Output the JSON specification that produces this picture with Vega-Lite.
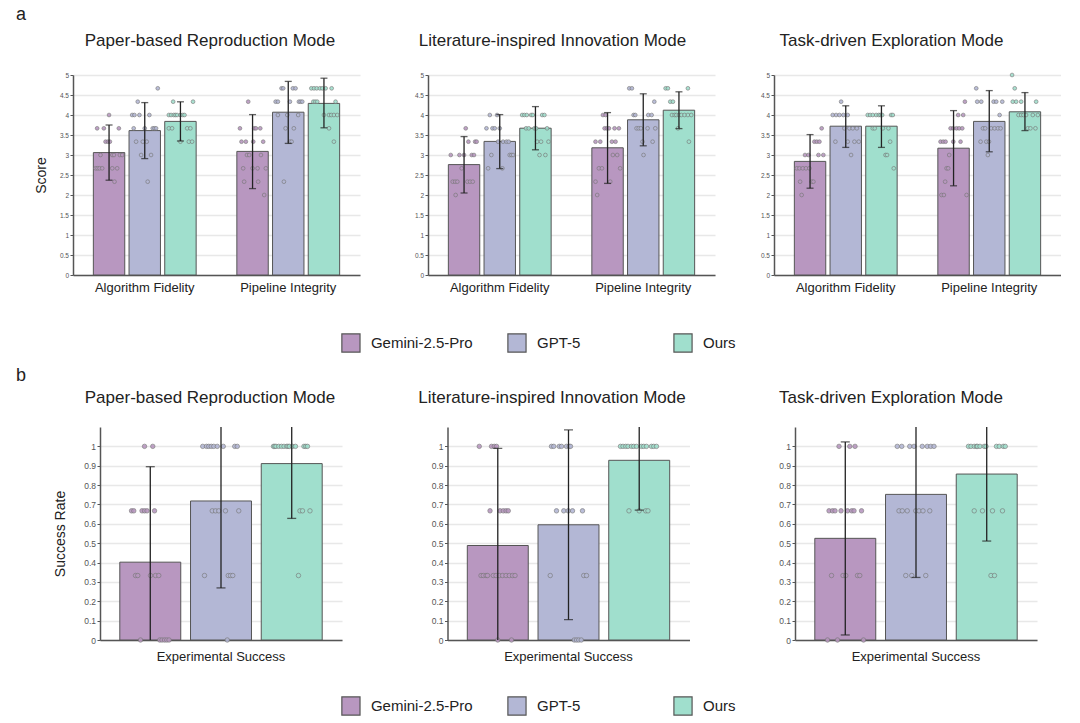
{
"$schema": "https://vega.github.io/schema/vega-lite/v6.json",
"padding": {"left": 16, "top": 5, "right": 0, "bottom": 0},
"background": "white",
"config": {
 "font": "Liberation Sans",
 "view": {"stroke": null},
 "axis": {"domainColor": "#555", "domainWidth": 1.5, "tickColor": "#555", "labelColor": "#555", "titleColor": "#222", "titleFontWeight": "normal", "titleFont": "Liberation Sans", "labelFont": "Liberation Sans"},
 "axisX": {"ticks": false, "grid": false, "labelAngle": 0, "labelFontSize": 13, "labelColor": "#222", "labelPadding": 6},
 "axisY": {"grid": true, "gridColor": "#e8e8e8", "gridWidth": 1.3, "tickSize": 3, "labelPadding": 1.5, "titleFontSize": 14, "format": "~g", "tickCount": 20, "labelOverlap": false},
 "title": {"fontWeight": "normal", "color": "#222", "fontSize": 17, "font": "Liberation Sans"}
},
"datasets": {
 "barsA": [
  {"mode":"Paper","metric":"Algorithm Fidelity","model":"Gemini-2.5-Pro","mean":3.06,"lo":2.37,"hi":3.75},
  {"mode":"Paper","metric":"Algorithm Fidelity","model":"GPT-5","mean":3.61,"lo":2.91,"hi":4.31},
  {"mode":"Paper","metric":"Algorithm Fidelity","model":"Ours","mean":3.84,"lo":3.35,"hi":4.33},
  {"mode":"Paper","metric":"Pipeline Integrity","model":"Gemini-2.5-Pro","mean":3.09,"lo":2.16,"hi":4.01},
  {"mode":"Paper","metric":"Pipeline Integrity","model":"GPT-5","mean":4.07,"lo":3.29,"hi":4.84},
  {"mode":"Paper","metric":"Pipeline Integrity","model":"Ours","mean":4.29,"lo":3.68,"hi":4.92},
  {"mode":"Literature","metric":"Algorithm Fidelity","model":"Gemini-2.5-Pro","mean":2.76,"lo":2.05,"hi":3.46},
  {"mode":"Literature","metric":"Algorithm Fidelity","model":"GPT-5","mean":3.34,"lo":2.66,"hi":4.01},
  {"mode":"Literature","metric":"Algorithm Fidelity","model":"Ours","mean":3.67,"lo":3.13,"hi":4.21},
  {"mode":"Literature","metric":"Pipeline Integrity","model":"Gemini-2.5-Pro","mean":3.18,"lo":2.29,"hi":4.06},
  {"mode":"Literature","metric":"Pipeline Integrity","model":"GPT-5","mean":3.88,"lo":3.23,"hi":4.53},
  {"mode":"Literature","metric":"Pipeline Integrity","model":"Ours","mean":4.12,"lo":3.66,"hi":4.58},
  {"mode":"Task","metric":"Algorithm Fidelity","model":"Gemini-2.5-Pro","mean":2.84,"lo":2.17,"hi":3.51},
  {"mode":"Task","metric":"Algorithm Fidelity","model":"GPT-5","mean":3.72,"lo":3.19,"hi":4.23},
  {"mode":"Task","metric":"Algorithm Fidelity","model":"Ours","mean":3.72,"lo":3.19,"hi":4.23},
  {"mode":"Task","metric":"Pipeline Integrity","model":"Gemini-2.5-Pro","mean":3.17,"lo":2.23,"hi":4.11},
  {"mode":"Task","metric":"Pipeline Integrity","model":"GPT-5","mean":3.84,"lo":3.08,"hi":4.61},
  {"mode":"Task","metric":"Pipeline Integrity","model":"Ours","mean":4.08,"lo":3.61,"hi":4.56}
 ],
 "barsB": [
  {"mode":"Paper","metric":"Experimental Success","model":"Gemini-2.5-Pro","mean":0.402,"lo":-0.09,"hi":0.895},
  {"mode":"Paper","metric":"Experimental Success","model":"GPT-5","mean":0.718,"lo":0.269,"hi":1.167},
  {"mode":"Paper","metric":"Experimental Success","model":"Ours","mean":0.911,"lo":0.628,"hi":1.194},
  {"mode":"Literature","metric":"Experimental Success","model":"Gemini-2.5-Pro","mean":0.488,"lo":-0.01,"hi":0.99},
  {"mode":"Literature","metric":"Experimental Success","model":"GPT-5","mean":0.595,"lo":0.105,"hi":1.085},
  {"mode":"Literature","metric":"Experimental Success","model":"Ours","mean":0.928,"lo":0.671,"hi":1.185},
  {"mode":"Task","metric":"Experimental Success","model":"Gemini-2.5-Pro","mean":0.525,"lo":0.026,"hi":1.023},
  {"mode":"Task","metric":"Experimental Success","model":"GPT-5","mean":0.752,"lo":0.323,"hi":1.181},
  {"mode":"Task","metric":"Experimental Success","model":"Ours","mean":0.857,"lo":0.511,"hi":1.203}
 ],
 "ptsA": [
  {"mode":"Paper","metric":"Algorithm Fidelity","model":"Gemini-2.5-Pro","score":4,"j":0},
  {"mode":"Paper","metric":"Algorithm Fidelity","model":"Gemini-2.5-Pro","score":3.667,"j":-0.85},
  {"mode":"Paper","metric":"Algorithm Fidelity","model":"Gemini-2.5-Pro","score":3.667,"j":-0.37},
  {"mode":"Paper","metric":"Algorithm Fidelity","model":"Gemini-2.5-Pro","score":3.667,"j":0.7},
  {"mode":"Paper","metric":"Algorithm Fidelity","model":"Gemini-2.5-Pro","score":3.333,"j":-0.25},
  {"mode":"Paper","metric":"Algorithm Fidelity","model":"Gemini-2.5-Pro","score":3.333,"j":-0.08},
  {"mode":"Paper","metric":"Algorithm Fidelity","model":"Gemini-2.5-Pro","score":3.333,"j":0.06},
  {"mode":"Paper","metric":"Algorithm Fidelity","model":"Gemini-2.5-Pro","score":3,"j":-0.61},
  {"mode":"Paper","metric":"Algorithm Fidelity","model":"Gemini-2.5-Pro","score":3,"j":0.23},
  {"mode":"Paper","metric":"Algorithm Fidelity","model":"Gemini-2.5-Pro","score":3,"j":0.35},
  {"mode":"Paper","metric":"Algorithm Fidelity","model":"Gemini-2.5-Pro","score":3,"j":0.77},
  {"mode":"Paper","metric":"Algorithm Fidelity","model":"Gemini-2.5-Pro","score":3,"j":0.94},
  {"mode":"Paper","metric":"Algorithm Fidelity","model":"Gemini-2.5-Pro","score":2.667,"j":-0.96},
  {"mode":"Paper","metric":"Algorithm Fidelity","model":"Gemini-2.5-Pro","score":2.667,"j":-0.82},
  {"mode":"Paper","metric":"Algorithm Fidelity","model":"Gemini-2.5-Pro","score":2.667,"j":-0.68},
  {"mode":"Paper","metric":"Algorithm Fidelity","model":"Gemini-2.5-Pro","score":2.667,"j":-0.49},
  {"mode":"Paper","metric":"Algorithm Fidelity","model":"Gemini-2.5-Pro","score":2.667,"j":0.23},
  {"mode":"Paper","metric":"Algorithm Fidelity","model":"Gemini-2.5-Pro","score":2.667,"j":0.58},
  {"mode":"Paper","metric":"Algorithm Fidelity","model":"Gemini-2.5-Pro","score":2.333,"j":0.39},
  {"mode":"Paper","metric":"Algorithm Fidelity","model":"GPT-5","score":4.667,"j":0.93},
  {"mode":"Paper","metric":"Algorithm Fidelity","model":"GPT-5","score":4.333,"j":-0.5},
  {"mode":"Paper","metric":"Algorithm Fidelity","model":"GPT-5","score":4,"j":-0.9},
  {"mode":"Paper","metric":"Algorithm Fidelity","model":"GPT-5","score":4,"j":-0.74},
  {"mode":"Paper","metric":"Algorithm Fidelity","model":"GPT-5","score":4,"j":-0.38},
  {"mode":"Paper","metric":"Algorithm Fidelity","model":"GPT-5","score":4,"j":0.33},
  {"mode":"Paper","metric":"Algorithm Fidelity","model":"GPT-5","score":3.667,"j":-0.79},
  {"mode":"Paper","metric":"Algorithm Fidelity","model":"GPT-5","score":3.667,"j":0},
  {"mode":"Paper","metric":"Algorithm Fidelity","model":"GPT-5","score":3.667,"j":0.57},
  {"mode":"Paper","metric":"Algorithm Fidelity","model":"GPT-5","score":3.667,"j":0.69},
  {"mode":"Paper","metric":"Algorithm Fidelity","model":"GPT-5","score":3.667,"j":0.81},
  {"mode":"Paper","metric":"Algorithm Fidelity","model":"GPT-5","score":3.333,"j":-0.62},
  {"mode":"Paper","metric":"Algorithm Fidelity","model":"GPT-5","score":3.333,"j":-0.14},
  {"mode":"Paper","metric":"Algorithm Fidelity","model":"GPT-5","score":3.333,"j":0.14},
  {"mode":"Paper","metric":"Algorithm Fidelity","model":"GPT-5","score":3,"j":-0.26},
  {"mode":"Paper","metric":"Algorithm Fidelity","model":"GPT-5","score":3,"j":0.45},
  {"mode":"Paper","metric":"Algorithm Fidelity","model":"GPT-5","score":2.333,"j":0.21},
  {"mode":"Paper","metric":"Algorithm Fidelity","model":"Ours","score":4.333,"j":-0.52},
  {"mode":"Paper","metric":"Algorithm Fidelity","model":"Ours","score":4.333,"j":0.9},
  {"mode":"Paper","metric":"Algorithm Fidelity","model":"Ours","score":4,"j":-0.83},
  {"mode":"Paper","metric":"Algorithm Fidelity","model":"Ours","score":4,"j":-0.67},
  {"mode":"Paper","metric":"Algorithm Fidelity","model":"Ours","score":4,"j":-0.48},
  {"mode":"Paper","metric":"Algorithm Fidelity","model":"Ours","score":4,"j":-0.36},
  {"mode":"Paper","metric":"Algorithm Fidelity","model":"Ours","score":4,"j":-0.24},
  {"mode":"Paper","metric":"Algorithm Fidelity","model":"Ours","score":4,"j":0},
  {"mode":"Paper","metric":"Algorithm Fidelity","model":"Ours","score":4,"j":0.17},
  {"mode":"Paper","metric":"Algorithm Fidelity","model":"Ours","score":4,"j":0.29},
  {"mode":"Paper","metric":"Algorithm Fidelity","model":"Ours","score":3.667,"j":-0.83},
  {"mode":"Paper","metric":"Algorithm Fidelity","model":"Ours","score":3.667,"j":-0.6},
  {"mode":"Paper","metric":"Algorithm Fidelity","model":"Ours","score":3.667,"j":0.48},
  {"mode":"Paper","metric":"Algorithm Fidelity","model":"Ours","score":3.667,"j":0.71},
  {"mode":"Paper","metric":"Algorithm Fidelity","model":"Ours","score":3.333,"j":0},
  {"mode":"Paper","metric":"Algorithm Fidelity","model":"Ours","score":3.333,"j":0.6},
  {"mode":"Paper","metric":"Algorithm Fidelity","model":"Ours","score":3.333,"j":0.83},
  {"mode":"Paper","metric":"Pipeline Integrity","model":"Gemini-2.5-Pro","score":4.333,"j":-0.31},
  {"mode":"Paper","metric":"Pipeline Integrity","model":"Gemini-2.5-Pro","score":3.667,"j":-0.9},
  {"mode":"Paper","metric":"Pipeline Integrity","model":"Gemini-2.5-Pro","score":3.667,"j":0.12},
  {"mode":"Paper","metric":"Pipeline Integrity","model":"Gemini-2.5-Pro","score":3.667,"j":0.24},
  {"mode":"Paper","metric":"Pipeline Integrity","model":"Gemini-2.5-Pro","score":3.667,"j":0.55},
  {"mode":"Paper","metric":"Pipeline Integrity","model":"Gemini-2.5-Pro","score":3.333,"j":-0.79},
  {"mode":"Paper","metric":"Pipeline Integrity","model":"Gemini-2.5-Pro","score":3.333,"j":-0.48},
  {"mode":"Paper","metric":"Pipeline Integrity","model":"Gemini-2.5-Pro","score":3.333,"j":0.05},
  {"mode":"Paper","metric":"Pipeline Integrity","model":"Gemini-2.5-Pro","score":3.333,"j":0.76},
  {"mode":"Paper","metric":"Pipeline Integrity","model":"Gemini-2.5-Pro","score":3,"j":-0.4},
  {"mode":"Paper","metric":"Pipeline Integrity","model":"Gemini-2.5-Pro","score":3,"j":-0.24},
  {"mode":"Paper","metric":"Pipeline Integrity","model":"Gemini-2.5-Pro","score":3,"j":0.6},
  {"mode":"Paper","metric":"Pipeline Integrity","model":"Gemini-2.5-Pro","score":2.667,"j":-0.67},
  {"mode":"Paper","metric":"Pipeline Integrity","model":"Gemini-2.5-Pro","score":2.667,"j":0},
  {"mode":"Paper","metric":"Pipeline Integrity","model":"Gemini-2.5-Pro","score":2.667,"j":0.36},
  {"mode":"Paper","metric":"Pipeline Integrity","model":"Gemini-2.5-Pro","score":2.667,"j":0.95},
  {"mode":"Paper","metric":"Pipeline Integrity","model":"Gemini-2.5-Pro","score":2.333,"j":-0.6},
  {"mode":"Paper","metric":"Pipeline Integrity","model":"Gemini-2.5-Pro","score":2.333,"j":0.4},
  {"mode":"Paper","metric":"Pipeline Integrity","model":"Gemini-2.5-Pro","score":2,"j":0.83},
  {"mode":"Paper","metric":"Pipeline Integrity","model":"GPT-5","score":4.667,"j":-0.48},
  {"mode":"Paper","metric":"Pipeline Integrity","model":"GPT-5","score":4.667,"j":-0.36},
  {"mode":"Paper","metric":"Pipeline Integrity","model":"GPT-5","score":4.667,"j":0.33},
  {"mode":"Paper","metric":"Pipeline Integrity","model":"GPT-5","score":4.667,"j":0.52},
  {"mode":"Paper","metric":"Pipeline Integrity","model":"GPT-5","score":4.333,"j":-0.9},
  {"mode":"Paper","metric":"Pipeline Integrity","model":"GPT-5","score":4.333,"j":-0.74},
  {"mode":"Paper","metric":"Pipeline Integrity","model":"GPT-5","score":4.333,"j":0.12},
  {"mode":"Paper","metric":"Pipeline Integrity","model":"GPT-5","score":4.333,"j":0.76},
  {"mode":"Paper","metric":"Pipeline Integrity","model":"GPT-5","score":4.333,"j":0.88},
  {"mode":"Paper","metric":"Pipeline Integrity","model":"GPT-5","score":4.333,"j":1.0},
  {"mode":"Paper","metric":"Pipeline Integrity","model":"GPT-5","score":4,"j":-0.74},
  {"mode":"Paper","metric":"Pipeline Integrity","model":"GPT-5","score":4,"j":-0.07},
  {"mode":"Paper","metric":"Pipeline Integrity","model":"GPT-5","score":4,"j":0.71},
  {"mode":"Paper","metric":"Pipeline Integrity","model":"GPT-5","score":3.667,"j":-0.19},
  {"mode":"Paper","metric":"Pipeline Integrity","model":"GPT-5","score":3.667,"j":0.4},
  {"mode":"Paper","metric":"Pipeline Integrity","model":"GPT-5","score":3.333,"j":0.12},
  {"mode":"Paper","metric":"Pipeline Integrity","model":"GPT-5","score":3.333,"j":0.24},
  {"mode":"Paper","metric":"Pipeline Integrity","model":"GPT-5","score":2.333,"j":-0.31},
  {"mode":"Paper","metric":"Pipeline Integrity","model":"Ours","score":4.667,"j":-0.9},
  {"mode":"Paper","metric":"Pipeline Integrity","model":"Ours","score":4.667,"j":-0.71},
  {"mode":"Paper","metric":"Pipeline Integrity","model":"Ours","score":4.667,"j":-0.52},
  {"mode":"Paper","metric":"Pipeline Integrity","model":"Ours","score":4.667,"j":-0.29},
  {"mode":"Paper","metric":"Pipeline Integrity","model":"Ours","score":4.667,"j":-0.12},
  {"mode":"Paper","metric":"Pipeline Integrity","model":"Ours","score":4.667,"j":0.12},
  {"mode":"Paper","metric":"Pipeline Integrity","model":"Ours","score":4.667,"j":0.55},
  {"mode":"Paper","metric":"Pipeline Integrity","model":"Ours","score":4.333,"j":-0.76},
  {"mode":"Paper","metric":"Pipeline Integrity","model":"Ours","score":4.333,"j":-0.62},
  {"mode":"Paper","metric":"Pipeline Integrity","model":"Ours","score":4.333,"j":-0.48},
  {"mode":"Paper","metric":"Pipeline Integrity","model":"Ours","score":4.333,"j":0.83},
  {"mode":"Paper","metric":"Pipeline Integrity","model":"Ours","score":4,"j":0},
  {"mode":"Paper","metric":"Pipeline Integrity","model":"Ours","score":4,"j":0.36},
  {"mode":"Paper","metric":"Pipeline Integrity","model":"Ours","score":4,"j":0.52},
  {"mode":"Paper","metric":"Pipeline Integrity","model":"Ours","score":4,"j":0.71},
  {"mode":"Paper","metric":"Pipeline Integrity","model":"Ours","score":4,"j":0.95},
  {"mode":"Paper","metric":"Pipeline Integrity","model":"Ours","score":3.667,"j":0.36},
  {"mode":"Paper","metric":"Pipeline Integrity","model":"Ours","score":3.333,"j":0.71},
  {"mode":"Literature","metric":"Algorithm Fidelity","model":"Gemini-2.5-Pro","score":3.667,"j":0.12},
  {"mode":"Literature","metric":"Algorithm Fidelity","model":"Gemini-2.5-Pro","score":3.333,"j":0.31},
  {"mode":"Literature","metric":"Algorithm Fidelity","model":"Gemini-2.5-Pro","score":3.333,"j":0.79},
  {"mode":"Literature","metric":"Algorithm Fidelity","model":"Gemini-2.5-Pro","score":3.333,"j":0.9},
  {"mode":"Literature","metric":"Algorithm Fidelity","model":"Gemini-2.5-Pro","score":3,"j":-0.95},
  {"mode":"Literature","metric":"Algorithm Fidelity","model":"Gemini-2.5-Pro","score":3,"j":-0.33},
  {"mode":"Literature","metric":"Algorithm Fidelity","model":"Gemini-2.5-Pro","score":3,"j":0},
  {"mode":"Literature","metric":"Algorithm Fidelity","model":"Gemini-2.5-Pro","score":3,"j":0.55},
  {"mode":"Literature","metric":"Algorithm Fidelity","model":"Gemini-2.5-Pro","score":3,"j":0.71},
  {"mode":"Literature","metric":"Algorithm Fidelity","model":"Gemini-2.5-Pro","score":2.667,"j":-0.17},
  {"mode":"Literature","metric":"Algorithm Fidelity","model":"Gemini-2.5-Pro","score":2.333,"j":-0.81},
  {"mode":"Literature","metric":"Algorithm Fidelity","model":"Gemini-2.5-Pro","score":2.333,"j":-0.64},
  {"mode":"Literature","metric":"Algorithm Fidelity","model":"Gemini-2.5-Pro","score":2.333,"j":-0.48},
  {"mode":"Literature","metric":"Algorithm Fidelity","model":"Gemini-2.5-Pro","score":2.333,"j":0.24},
  {"mode":"Literature","metric":"Algorithm Fidelity","model":"Gemini-2.5-Pro","score":2.333,"j":0.43},
  {"mode":"Literature","metric":"Algorithm Fidelity","model":"Gemini-2.5-Pro","score":2.333,"j":0.62},
  {"mode":"Literature","metric":"Algorithm Fidelity","model":"Gemini-2.5-Pro","score":2,"j":-0.6},
  {"mode":"Literature","metric":"Algorithm Fidelity","model":"GPT-5","score":4,"j":-0.71},
  {"mode":"Literature","metric":"Algorithm Fidelity","model":"GPT-5","score":4,"j":-0.19},
  {"mode":"Literature","metric":"Algorithm Fidelity","model":"GPT-5","score":3.667,"j":-0.95},
  {"mode":"Literature","metric":"Algorithm Fidelity","model":"GPT-5","score":3.667,"j":-0.52},
  {"mode":"Literature","metric":"Algorithm Fidelity","model":"GPT-5","score":3.667,"j":-0.36},
  {"mode":"Literature","metric":"Algorithm Fidelity","model":"GPT-5","score":3.667,"j":0},
  {"mode":"Literature","metric":"Algorithm Fidelity","model":"GPT-5","score":3.333,"j":-0.12},
  {"mode":"Literature","metric":"Algorithm Fidelity","model":"GPT-5","score":3.333,"j":0.24},
  {"mode":"Literature","metric":"Algorithm Fidelity","model":"GPT-5","score":3.333,"j":0.48},
  {"mode":"Literature","metric":"Algorithm Fidelity","model":"GPT-5","score":3.333,"j":0.64},
  {"mode":"Literature","metric":"Algorithm Fidelity","model":"GPT-5","score":3,"j":-0.6},
  {"mode":"Literature","metric":"Algorithm Fidelity","model":"GPT-5","score":3,"j":0.71},
  {"mode":"Literature","metric":"Algorithm Fidelity","model":"GPT-5","score":3,"j":0.83},
  {"mode":"Literature","metric":"Algorithm Fidelity","model":"GPT-5","score":3,"j":0.95},
  {"mode":"Literature","metric":"Algorithm Fidelity","model":"GPT-5","score":2.667,"j":-0.83},
  {"mode":"Literature","metric":"Algorithm Fidelity","model":"GPT-5","score":2.667,"j":0.19},
  {"mode":"Literature","metric":"Algorithm Fidelity","model":"Ours","score":4,"j":-0.95},
  {"mode":"Literature","metric":"Algorithm Fidelity","model":"Ours","score":4,"j":-0.79},
  {"mode":"Literature","metric":"Algorithm Fidelity","model":"Ours","score":4,"j":-0.62},
  {"mode":"Literature","metric":"Algorithm Fidelity","model":"Ours","score":4,"j":-0.31},
  {"mode":"Literature","metric":"Algorithm Fidelity","model":"Ours","score":4,"j":-0.19},
  {"mode":"Literature","metric":"Algorithm Fidelity","model":"Ours","score":4,"j":0.48},
  {"mode":"Literature","metric":"Algorithm Fidelity","model":"Ours","score":4,"j":0.64},
  {"mode":"Literature","metric":"Algorithm Fidelity","model":"Ours","score":3.667,"j":-0.67},
  {"mode":"Literature","metric":"Algorithm Fidelity","model":"Ours","score":3.667,"j":-0.48},
  {"mode":"Literature","metric":"Algorithm Fidelity","model":"Ours","score":3.667,"j":-0.07},
  {"mode":"Literature","metric":"Algorithm Fidelity","model":"Ours","score":3.667,"j":0.05},
  {"mode":"Literature","metric":"Algorithm Fidelity","model":"Ours","score":3.667,"j":0.83},
  {"mode":"Literature","metric":"Algorithm Fidelity","model":"Ours","score":3.333,"j":0.12},
  {"mode":"Literature","metric":"Algorithm Fidelity","model":"Ours","score":3.333,"j":0.4},
  {"mode":"Literature","metric":"Algorithm Fidelity","model":"Ours","score":3.333,"j":0.93},
  {"mode":"Literature","metric":"Algorithm Fidelity","model":"Ours","score":3,"j":0.29},
  {"mode":"Literature","metric":"Algorithm Fidelity","model":"Ours","score":3,"j":0.71},
  {"mode":"Literature","metric":"Pipeline Integrity","model":"Gemini-2.5-Pro","score":4,"j":-0.33},
  {"mode":"Literature","metric":"Pipeline Integrity","model":"Gemini-2.5-Pro","score":4,"j":-0.14},
  {"mode":"Literature","metric":"Pipeline Integrity","model":"Gemini-2.5-Pro","score":3.667,"j":-0.21},
  {"mode":"Literature","metric":"Pipeline Integrity","model":"Gemini-2.5-Pro","score":3.667,"j":-0.05},
  {"mode":"Literature","metric":"Pipeline Integrity","model":"Gemini-2.5-Pro","score":3.667,"j":0.1},
  {"mode":"Literature","metric":"Pipeline Integrity","model":"Gemini-2.5-Pro","score":3.667,"j":0.5},
  {"mode":"Literature","metric":"Pipeline Integrity","model":"Gemini-2.5-Pro","score":3.667,"j":0.81},
  {"mode":"Literature","metric":"Pipeline Integrity","model":"Gemini-2.5-Pro","score":3.333,"j":-0.86},
  {"mode":"Literature","metric":"Pipeline Integrity","model":"Gemini-2.5-Pro","score":3.333,"j":-0.52},
  {"mode":"Literature","metric":"Pipeline Integrity","model":"Gemini-2.5-Pro","score":3.333,"j":0.31},
  {"mode":"Literature","metric":"Pipeline Integrity","model":"Gemini-2.5-Pro","score":3.333,"j":0.57},
  {"mode":"Literature","metric":"Pipeline Integrity","model":"Gemini-2.5-Pro","score":3,"j":0.38},
  {"mode":"Literature","metric":"Pipeline Integrity","model":"Gemini-2.5-Pro","score":3,"j":0.69},
  {"mode":"Literature","metric":"Pipeline Integrity","model":"Gemini-2.5-Pro","score":2.667,"j":-0.62},
  {"mode":"Literature","metric":"Pipeline Integrity","model":"Gemini-2.5-Pro","score":2.667,"j":-0.4},
  {"mode":"Literature","metric":"Pipeline Integrity","model":"Gemini-2.5-Pro","score":2.667,"j":0.9},
  {"mode":"Literature","metric":"Pipeline Integrity","model":"Gemini-2.5-Pro","score":2.333,"j":-0.86},
  {"mode":"Literature","metric":"Pipeline Integrity","model":"Gemini-2.5-Pro","score":2.333,"j":0.19},
  {"mode":"Literature","metric":"Pipeline Integrity","model":"Gemini-2.5-Pro","score":2,"j":-0.74},
  {"mode":"Literature","metric":"Pipeline Integrity","model":"GPT-5","score":4.667,"j":-1},
  {"mode":"Literature","metric":"Pipeline Integrity","model":"GPT-5","score":4.667,"j":-0.81},
  {"mode":"Literature","metric":"Pipeline Integrity","model":"GPT-5","score":4.333,"j":0.79},
  {"mode":"Literature","metric":"Pipeline Integrity","model":"GPT-5","score":4,"j":-0.69},
  {"mode":"Literature","metric":"Pipeline Integrity","model":"GPT-5","score":4,"j":-0.57},
  {"mode":"Literature","metric":"Pipeline Integrity","model":"GPT-5","score":4,"j":0.36},
  {"mode":"Literature","metric":"Pipeline Integrity","model":"GPT-5","score":4,"j":0.6},
  {"mode":"Literature","metric":"Pipeline Integrity","model":"GPT-5","score":3.667,"j":-0.48},
  {"mode":"Literature","metric":"Pipeline Integrity","model":"GPT-5","score":3.667,"j":-0.33},
  {"mode":"Literature","metric":"Pipeline Integrity","model":"GPT-5","score":3.667,"j":-0.17},
  {"mode":"Literature","metric":"Pipeline Integrity","model":"GPT-5","score":3.667,"j":0.31},
  {"mode":"Literature","metric":"Pipeline Integrity","model":"GPT-5","score":3.667,"j":0.86},
  {"mode":"Literature","metric":"Pipeline Integrity","model":"GPT-5","score":3.333,"j":-0.05},
  {"mode":"Literature","metric":"Pipeline Integrity","model":"GPT-5","score":3.333,"j":0.67},
  {"mode":"Literature","metric":"Pipeline Integrity","model":"GPT-5","score":3,"j":0.02},
  {"mode":"Literature","metric":"Pipeline Integrity","model":"Ours","score":4.667,"j":-0.95},
  {"mode":"Literature","metric":"Pipeline Integrity","model":"Ours","score":4.667,"j":-0.79},
  {"mode":"Literature","metric":"Pipeline Integrity","model":"Ours","score":4.667,"j":0.64},
  {"mode":"Literature","metric":"Pipeline Integrity","model":"Ours","score":4.333,"j":-0.62},
  {"mode":"Literature","metric":"Pipeline Integrity","model":"Ours","score":4.333,"j":-0.43},
  {"mode":"Literature","metric":"Pipeline Integrity","model":"Ours","score":4,"j":-0.5},
  {"mode":"Literature","metric":"Pipeline Integrity","model":"Ours","score":4,"j":-0.31},
  {"mode":"Literature","metric":"Pipeline Integrity","model":"Ours","score":4,"j":-0.19},
  {"mode":"Literature","metric":"Pipeline Integrity","model":"Ours","score":4,"j":0},
  {"mode":"Literature","metric":"Pipeline Integrity","model":"Ours","score":4,"j":0.17},
  {"mode":"Literature","metric":"Pipeline Integrity","model":"Ours","score":4,"j":0.4},
  {"mode":"Literature","metric":"Pipeline Integrity","model":"Ours","score":4,"j":0.64},
  {"mode":"Literature","metric":"Pipeline Integrity","model":"Ours","score":4,"j":0.88},
  {"mode":"Literature","metric":"Pipeline Integrity","model":"Ours","score":3.667,"j":-0.07},
  {"mode":"Literature","metric":"Pipeline Integrity","model":"Ours","score":3.333,"j":0.71},
  {"mode":"Task","metric":"Algorithm Fidelity","model":"Gemini-2.5-Pro","score":3.667,"j":0.83},
  {"mode":"Task","metric":"Algorithm Fidelity","model":"Gemini-2.5-Pro","score":3.333,"j":0.31},
  {"mode":"Task","metric":"Algorithm Fidelity","model":"Gemini-2.5-Pro","score":3.333,"j":0.48},
  {"mode":"Task","metric":"Algorithm Fidelity","model":"Gemini-2.5-Pro","score":3.333,"j":0.67},
  {"mode":"Task","metric":"Algorithm Fidelity","model":"Gemini-2.5-Pro","score":3,"j":-0.36},
  {"mode":"Task","metric":"Algorithm Fidelity","model":"Gemini-2.5-Pro","score":3,"j":-0.12},
  {"mode":"Task","metric":"Algorithm Fidelity","model":"Gemini-2.5-Pro","score":3,"j":0.6},
  {"mode":"Task","metric":"Algorithm Fidelity","model":"Gemini-2.5-Pro","score":3,"j":0.95},
  {"mode":"Task","metric":"Algorithm Fidelity","model":"Gemini-2.5-Pro","score":2.667,"j":-0.95},
  {"mode":"Task","metric":"Algorithm Fidelity","model":"Gemini-2.5-Pro","score":2.667,"j":-0.76},
  {"mode":"Task","metric":"Algorithm Fidelity","model":"Gemini-2.5-Pro","score":2.667,"j":-0.52},
  {"mode":"Task","metric":"Algorithm Fidelity","model":"Gemini-2.5-Pro","score":2.667,"j":-0.29},
  {"mode":"Task","metric":"Algorithm Fidelity","model":"Gemini-2.5-Pro","score":2.667,"j":-0.05},
  {"mode":"Task","metric":"Algorithm Fidelity","model":"Gemini-2.5-Pro","score":2.333,"j":-0.71},
  {"mode":"Task","metric":"Algorithm Fidelity","model":"Gemini-2.5-Pro","score":2.333,"j":0.12},
  {"mode":"Task","metric":"Algorithm Fidelity","model":"Gemini-2.5-Pro","score":2.333,"j":0.24},
  {"mode":"Task","metric":"Algorithm Fidelity","model":"Gemini-2.5-Pro","score":2,"j":-0.6},
  {"mode":"Task","metric":"Algorithm Fidelity","model":"GPT-5","score":4.333,"j":-0.33},
  {"mode":"Task","metric":"Algorithm Fidelity","model":"GPT-5","score":4,"j":-0.93},
  {"mode":"Task","metric":"Algorithm Fidelity","model":"GPT-5","score":4,"j":-0.69},
  {"mode":"Task","metric":"Algorithm Fidelity","model":"GPT-5","score":4,"j":-0.45},
  {"mode":"Task","metric":"Algorithm Fidelity","model":"GPT-5","score":4,"j":-0.17},
  {"mode":"Task","metric":"Algorithm Fidelity","model":"GPT-5","score":4,"j":0.14},
  {"mode":"Task","metric":"Algorithm Fidelity","model":"GPT-5","score":3.667,"j":-0.1},
  {"mode":"Task","metric":"Algorithm Fidelity","model":"GPT-5","score":3.667,"j":0.26},
  {"mode":"Task","metric":"Algorithm Fidelity","model":"GPT-5","score":3.667,"j":0.5},
  {"mode":"Task","metric":"Algorithm Fidelity","model":"GPT-5","score":3.667,"j":0.79},
  {"mode":"Task","metric":"Algorithm Fidelity","model":"GPT-5","score":3.333,"j":-0.74},
  {"mode":"Task","metric":"Algorithm Fidelity","model":"GPT-5","score":3.333,"j":0.14},
  {"mode":"Task","metric":"Algorithm Fidelity","model":"GPT-5","score":3.333,"j":0.62},
  {"mode":"Task","metric":"Algorithm Fidelity","model":"GPT-5","score":3.333,"j":0.93},
  {"mode":"Task","metric":"Algorithm Fidelity","model":"GPT-5","score":3,"j":0.38},
  {"mode":"Task","metric":"Algorithm Fidelity","model":"Ours","score":4,"j":-0.98},
  {"mode":"Task","metric":"Algorithm Fidelity","model":"Ours","score":4,"j":-0.81},
  {"mode":"Task","metric":"Algorithm Fidelity","model":"Ours","score":4,"j":-0.62},
  {"mode":"Task","metric":"Algorithm Fidelity","model":"Ours","score":4,"j":-0.38},
  {"mode":"Task","metric":"Algorithm Fidelity","model":"Ours","score":4,"j":-0.19},
  {"mode":"Task","metric":"Algorithm Fidelity","model":"Ours","score":4,"j":-0.07},
  {"mode":"Task","metric":"Algorithm Fidelity","model":"Ours","score":4,"j":0.05},
  {"mode":"Task","metric":"Algorithm Fidelity","model":"Ours","score":4,"j":0.69},
  {"mode":"Task","metric":"Algorithm Fidelity","model":"Ours","score":4,"j":0.81},
  {"mode":"Task","metric":"Algorithm Fidelity","model":"Ours","score":3.667,"j":-0.62},
  {"mode":"Task","metric":"Algorithm Fidelity","model":"Ours","score":3.667,"j":-0.48},
  {"mode":"Task","metric":"Algorithm Fidelity","model":"Ours","score":3.667,"j":0.1},
  {"mode":"Task","metric":"Algorithm Fidelity","model":"Ours","score":3.667,"j":0.5},
  {"mode":"Task","metric":"Algorithm Fidelity","model":"Ours","score":3.333,"j":0.62},
  {"mode":"Task","metric":"Algorithm Fidelity","model":"Ours","score":3,"j":0.29},
  {"mode":"Task","metric":"Algorithm Fidelity","model":"Ours","score":3,"j":0.4},
  {"mode":"Task","metric":"Algorithm Fidelity","model":"Ours","score":2.667,"j":0.88},
  {"mode":"Task","metric":"Pipeline Integrity","model":"Gemini-2.5-Pro","score":4.333,"j":0.81},
  {"mode":"Task","metric":"Pipeline Integrity","model":"Gemini-2.5-Pro","score":4,"j":0.33},
  {"mode":"Task","metric":"Pipeline Integrity","model":"Gemini-2.5-Pro","score":4,"j":0.69},
  {"mode":"Task","metric":"Pipeline Integrity","model":"Gemini-2.5-Pro","score":3.667,"j":-0.21},
  {"mode":"Task","metric":"Pipeline Integrity","model":"Gemini-2.5-Pro","score":3.667,"j":-0.02},
  {"mode":"Task","metric":"Pipeline Integrity","model":"Gemini-2.5-Pro","score":3.667,"j":0.21},
  {"mode":"Task","metric":"Pipeline Integrity","model":"Gemini-2.5-Pro","score":3.667,"j":0.4},
  {"mode":"Task","metric":"Pipeline Integrity","model":"Gemini-2.5-Pro","score":3.667,"j":0.62},
  {"mode":"Task","metric":"Pipeline Integrity","model":"Gemini-2.5-Pro","score":3.333,"j":-0.93},
  {"mode":"Task","metric":"Pipeline Integrity","model":"Gemini-2.5-Pro","score":3.333,"j":-0.74},
  {"mode":"Task","metric":"Pipeline Integrity","model":"Gemini-2.5-Pro","score":3.333,"j":-0.57},
  {"mode":"Task","metric":"Pipeline Integrity","model":"Gemini-2.5-Pro","score":3.333,"j":-0.02},
  {"mode":"Task","metric":"Pipeline Integrity","model":"Gemini-2.5-Pro","score":3.333,"j":0.5},
  {"mode":"Task","metric":"Pipeline Integrity","model":"Gemini-2.5-Pro","score":3,"j":-0.31},
  {"mode":"Task","metric":"Pipeline Integrity","model":"Gemini-2.5-Pro","score":2.667,"j":-0.5},
  {"mode":"Task","metric":"Pipeline Integrity","model":"Gemini-2.5-Pro","score":2.667,"j":-0.38},
  {"mode":"Task","metric":"Pipeline Integrity","model":"Gemini-2.5-Pro","score":2.333,"j":-0.6},
  {"mode":"Task","metric":"Pipeline Integrity","model":"Gemini-2.5-Pro","score":2,"j":-0.86},
  {"mode":"Task","metric":"Pipeline Integrity","model":"Gemini-2.5-Pro","score":2,"j":-0.69},
  {"mode":"Task","metric":"Pipeline Integrity","model":"Gemini-2.5-Pro","score":2,"j":0.93},
  {"mode":"Task","metric":"Pipeline Integrity","model":"GPT-5","score":4.667,"j":-0.93},
  {"mode":"Task","metric":"Pipeline Integrity","model":"GPT-5","score":4.333,"j":-0.86},
  {"mode":"Task","metric":"Pipeline Integrity","model":"GPT-5","score":4.333,"j":-0.57},
  {"mode":"Task","metric":"Pipeline Integrity","model":"GPT-5","score":4.333,"j":0.31},
  {"mode":"Task","metric":"Pipeline Integrity","model":"GPT-5","score":4.333,"j":0.5},
  {"mode":"Task","metric":"Pipeline Integrity","model":"GPT-5","score":4.333,"j":0.93},
  {"mode":"Task","metric":"Pipeline Integrity","model":"GPT-5","score":4,"j":0.74},
  {"mode":"Task","metric":"Pipeline Integrity","model":"GPT-5","score":3.667,"j":-0.45},
  {"mode":"Task","metric":"Pipeline Integrity","model":"GPT-5","score":3.667,"j":-0.29},
  {"mode":"Task","metric":"Pipeline Integrity","model":"GPT-5","score":3.667,"j":0.14},
  {"mode":"Task","metric":"Pipeline Integrity","model":"GPT-5","score":3.667,"j":0.38},
  {"mode":"Task","metric":"Pipeline Integrity","model":"GPT-5","score":3.667,"j":0.62},
  {"mode":"Task","metric":"Pipeline Integrity","model":"GPT-5","score":3.667,"j":0.81},
  {"mode":"Task","metric":"Pipeline Integrity","model":"GPT-5","score":3.333,"j":-0.62},
  {"mode":"Task","metric":"Pipeline Integrity","model":"GPT-5","score":3.333,"j":-0.21},
  {"mode":"Task","metric":"Pipeline Integrity","model":"GPT-5","score":3.333,"j":-0.02},
  {"mode":"Task","metric":"Pipeline Integrity","model":"GPT-5","score":3,"j":-0.1},
  {"mode":"Task","metric":"Pipeline Integrity","model":"Ours","score":5,"j":-0.92},
  {"mode":"Task","metric":"Pipeline Integrity","model":"Ours","score":4.667,"j":-0.73},
  {"mode":"Task","metric":"Pipeline Integrity","model":"Ours","score":4.333,"j":-0.87},
  {"mode":"Task","metric":"Pipeline Integrity","model":"Ours","score":4.333,"j":-0.63},
  {"mode":"Task","metric":"Pipeline Integrity","model":"Ours","score":4.333,"j":-0.27},
  {"mode":"Task","metric":"Pipeline Integrity","model":"Ours","score":4.333,"j":0.8},
  {"mode":"Task","metric":"Pipeline Integrity","model":"Ours","score":4,"j":-0.46},
  {"mode":"Task","metric":"Pipeline Integrity","model":"Ours","score":4,"j":-0.27},
  {"mode":"Task","metric":"Pipeline Integrity","model":"Ours","score":4,"j":-0.11},
  {"mode":"Task","metric":"Pipeline Integrity","model":"Ours","score":4,"j":0.08},
  {"mode":"Task","metric":"Pipeline Integrity","model":"Ours","score":4,"j":0.56},
  {"mode":"Task","metric":"Pipeline Integrity","model":"Ours","score":4,"j":0.92},
  {"mode":"Task","metric":"Pipeline Integrity","model":"Ours","score":3.667,"j":0.2},
  {"mode":"Task","metric":"Pipeline Integrity","model":"Ours","score":3.667,"j":0.39},
  {"mode":"Task","metric":"Pipeline Integrity","model":"Ours","score":3.667,"j":0.75}
 ],
 "ptsB": [
  {"mode":"Paper","metric":"Experimental Success","model":"Gemini-2.5-Pro","score":1,"j":-0.23},
  {"mode":"Paper","metric":"Experimental Success","model":"Gemini-2.5-Pro","score":1,"j":0.1},
  {"mode":"Paper","metric":"Experimental Success","model":"Gemini-2.5-Pro","score":0.667,"j":-0.75},
  {"mode":"Paper","metric":"Experimental Success","model":"Gemini-2.5-Pro","score":0.667,"j":-0.66},
  {"mode":"Paper","metric":"Experimental Success","model":"Gemini-2.5-Pro","score":0.667,"j":-0.33},
  {"mode":"Paper","metric":"Experimental Success","model":"Gemini-2.5-Pro","score":0.667,"j":-0.23},
  {"mode":"Paper","metric":"Experimental Success","model":"Gemini-2.5-Pro","score":0.667,"j":-0.13},
  {"mode":"Paper","metric":"Experimental Success","model":"Gemini-2.5-Pro","score":0.667,"j":0.17},
  {"mode":"Paper","metric":"Experimental Success","model":"Gemini-2.5-Pro","score":0.333,"j":-0.59},
  {"mode":"Paper","metric":"Experimental Success","model":"Gemini-2.5-Pro","score":0.333,"j":-0.5},
  {"mode":"Paper","metric":"Experimental Success","model":"Gemini-2.5-Pro","score":0.333,"j":0.01},
  {"mode":"Paper","metric":"Experimental Success","model":"Gemini-2.5-Pro","score":0.333,"j":0.21},
  {"mode":"Paper","metric":"Experimental Success","model":"Gemini-2.5-Pro","score":0.333,"j":0.34},
  {"mode":"Paper","metric":"Experimental Success","model":"Gemini-2.5-Pro","score":0,"j":-0.39},
  {"mode":"Paper","metric":"Experimental Success","model":"Gemini-2.5-Pro","score":0,"j":0.38},
  {"mode":"Paper","metric":"Experimental Success","model":"Gemini-2.5-Pro","score":0,"j":0.47},
  {"mode":"Paper","metric":"Experimental Success","model":"Gemini-2.5-Pro","score":0,"j":0.57},
  {"mode":"Paper","metric":"Experimental Success","model":"Gemini-2.5-Pro","score":0,"j":0.66},
  {"mode":"Paper","metric":"Experimental Success","model":"Gemini-2.5-Pro","score":0,"j":0.75},
  {"mode":"Paper","metric":"Experimental Success","model":"GPT-5","score":1,"j":-0.73},
  {"mode":"Paper","metric":"Experimental Success","model":"GPT-5","score":1,"j":-0.58},
  {"mode":"Paper","metric":"Experimental Success","model":"GPT-5","score":1,"j":-0.49},
  {"mode":"Paper","metric":"Experimental Success","model":"GPT-5","score":1,"j":-0.39},
  {"mode":"Paper","metric":"Experimental Success","model":"GPT-5","score":1,"j":-0.29},
  {"mode":"Paper","metric":"Experimental Success","model":"GPT-5","score":1,"j":-0.15},
  {"mode":"Paper","metric":"Experimental Success","model":"GPT-5","score":1,"j":0.09},
  {"mode":"Paper","metric":"Experimental Success","model":"GPT-5","score":1,"j":0.55},
  {"mode":"Paper","metric":"Experimental Success","model":"GPT-5","score":1,"j":0.65},
  {"mode":"Paper","metric":"Experimental Success","model":"GPT-5","score":0.667,"j":-0.35},
  {"mode":"Paper","metric":"Experimental Success","model":"GPT-5","score":0.667,"j":-0.22},
  {"mode":"Paper","metric":"Experimental Success","model":"GPT-5","score":0.667,"j":-0.09},
  {"mode":"Paper","metric":"Experimental Success","model":"GPT-5","score":0.667,"j":0.18},
  {"mode":"Paper","metric":"Experimental Success","model":"GPT-5","score":0.667,"j":0.71},
  {"mode":"Paper","metric":"Experimental Success","model":"GPT-5","score":0.333,"j":-0.66},
  {"mode":"Paper","metric":"Experimental Success","model":"GPT-5","score":0.333,"j":0.29},
  {"mode":"Paper","metric":"Experimental Success","model":"GPT-5","score":0.333,"j":0.38},
  {"mode":"Paper","metric":"Experimental Success","model":"GPT-5","score":0.333,"j":0.47},
  {"mode":"Paper","metric":"Experimental Success","model":"GPT-5","score":0,"j":0.25},
  {"mode":"Paper","metric":"Experimental Success","model":"Ours","score":1,"j":-0.73},
  {"mode":"Paper","metric":"Experimental Success","model":"Ours","score":1,"j":-0.68},
  {"mode":"Paper","metric":"Experimental Success","model":"Ours","score":1,"j":-0.63},
  {"mode":"Paper","metric":"Experimental Success","model":"Ours","score":1,"j":-0.52},
  {"mode":"Paper","metric":"Experimental Success","model":"Ours","score":1,"j":-0.41},
  {"mode":"Paper","metric":"Experimental Success","model":"Ours","score":1,"j":-0.31},
  {"mode":"Paper","metric":"Experimental Success","model":"Ours","score":1,"j":-0.2},
  {"mode":"Paper","metric":"Experimental Success","model":"Ours","score":1,"j":-0.15},
  {"mode":"Paper","metric":"Experimental Success","model":"Ours","score":1,"j":-0.09},
  {"mode":"Paper","metric":"Experimental Success","model":"Ours","score":1,"j":0.03},
  {"mode":"Paper","metric":"Experimental Success","model":"Ours","score":1,"j":0.15},
  {"mode":"Paper","metric":"Experimental Success","model":"Ours","score":1,"j":0.49},
  {"mode":"Paper","metric":"Experimental Success","model":"Ours","score":1,"j":0.56},
  {"mode":"Paper","metric":"Experimental Success","model":"Ours","score":1,"j":0.63},
  {"mode":"Paper","metric":"Experimental Success","model":"Ours","score":0.667,"j":0.33},
  {"mode":"Paper","metric":"Experimental Success","model":"Ours","score":0.667,"j":0.43},
  {"mode":"Paper","metric":"Experimental Success","model":"Ours","score":0.667,"j":0.73},
  {"mode":"Paper","metric":"Experimental Success","model":"Ours","score":0.333,"j":0.27},
  {"mode":"Literature","metric":"Experimental Success","model":"Gemini-2.5-Pro","score":1,"j":-0.74},
  {"mode":"Literature","metric":"Experimental Success","model":"Gemini-2.5-Pro","score":1,"j":-0.25},
  {"mode":"Literature","metric":"Experimental Success","model":"Gemini-2.5-Pro","score":1,"j":-0.14},
  {"mode":"Literature","metric":"Experimental Success","model":"Gemini-2.5-Pro","score":1,"j":-0.05},
  {"mode":"Literature","metric":"Experimental Success","model":"Gemini-2.5-Pro","score":0.667,"j":-0.31},
  {"mode":"Literature","metric":"Experimental Success","model":"Gemini-2.5-Pro","score":0.667,"j":0.09},
  {"mode":"Literature","metric":"Experimental Success","model":"Gemini-2.5-Pro","score":0.667,"j":0.22},
  {"mode":"Literature","metric":"Experimental Success","model":"Gemini-2.5-Pro","score":0.667,"j":0.33},
  {"mode":"Literature","metric":"Experimental Success","model":"Gemini-2.5-Pro","score":0.667,"j":0.42},
  {"mode":"Literature","metric":"Experimental Success","model":"Gemini-2.5-Pro","score":0.333,"j":-0.67},
  {"mode":"Literature","metric":"Experimental Success","model":"Gemini-2.5-Pro","score":0.333,"j":-0.58},
  {"mode":"Literature","metric":"Experimental Success","model":"Gemini-2.5-Pro","score":0.333,"j":-0.47},
  {"mode":"Literature","metric":"Experimental Success","model":"Gemini-2.5-Pro","score":0.333,"j":-0.41},
  {"mode":"Literature","metric":"Experimental Success","model":"Gemini-2.5-Pro","score":0.333,"j":-0.18},
  {"mode":"Literature","metric":"Experimental Success","model":"Gemini-2.5-Pro","score":0.333,"j":-0.07},
  {"mode":"Literature","metric":"Experimental Success","model":"Gemini-2.5-Pro","score":0.333,"j":0.06},
  {"mode":"Literature","metric":"Experimental Success","model":"Gemini-2.5-Pro","score":0.333,"j":0.19},
  {"mode":"Literature","metric":"Experimental Success","model":"Gemini-2.5-Pro","score":0.333,"j":0.33},
  {"mode":"Literature","metric":"Experimental Success","model":"Gemini-2.5-Pro","score":0.333,"j":0.46},
  {"mode":"Literature","metric":"Experimental Success","model":"Gemini-2.5-Pro","score":0.333,"j":0.59},
  {"mode":"Literature","metric":"Experimental Success","model":"Gemini-2.5-Pro","score":0.333,"j":0.69},
  {"mode":"Literature","metric":"Experimental Success","model":"Gemini-2.5-Pro","score":0,"j":0},
  {"mode":"Literature","metric":"Experimental Success","model":"Gemini-2.5-Pro","score":0,"j":0.55},
  {"mode":"Literature","metric":"Experimental Success","model":"GPT-5","score":1,"j":-0.68},
  {"mode":"Literature","metric":"Experimental Success","model":"GPT-5","score":1,"j":-0.59},
  {"mode":"Literature","metric":"Experimental Success","model":"GPT-5","score":1,"j":-0.37},
  {"mode":"Literature","metric":"Experimental Success","model":"GPT-5","score":1,"j":-0.28},
  {"mode":"Literature","metric":"Experimental Success","model":"GPT-5","score":1,"j":-0.08},
  {"mode":"Literature","metric":"Experimental Success","model":"GPT-5","score":1,"j":0.03},
  {"mode":"Literature","metric":"Experimental Success","model":"GPT-5","score":1,"j":0.08},
  {"mode":"Literature","metric":"Experimental Success","model":"GPT-5","score":0.667,"j":-0.48},
  {"mode":"Literature","metric":"Experimental Success","model":"GPT-5","score":0.667,"j":-0.19},
  {"mode":"Literature","metric":"Experimental Success","model":"GPT-5","score":0.667,"j":-0.01},
  {"mode":"Literature","metric":"Experimental Success","model":"GPT-5","score":0.667,"j":0.16},
  {"mode":"Literature","metric":"Experimental Success","model":"GPT-5","score":0.667,"j":0.56},
  {"mode":"Literature","metric":"Experimental Success","model":"GPT-5","score":0.333,"j":-0.73},
  {"mode":"Literature","metric":"Experimental Success","model":"GPT-5","score":0.333,"j":0.61},
  {"mode":"Literature","metric":"Experimental Success","model":"GPT-5","score":0.333,"j":0.72},
  {"mode":"Literature","metric":"Experimental Success","model":"GPT-5","score":0,"j":0.23},
  {"mode":"Literature","metric":"Experimental Success","model":"GPT-5","score":0,"j":0.32},
  {"mode":"Literature","metric":"Experimental Success","model":"GPT-5","score":0,"j":0.41},
  {"mode":"Literature","metric":"Experimental Success","model":"GPT-5","score":0,"j":0.51},
  {"mode":"Literature","metric":"Experimental Success","model":"Ours","score":1,"j":-0.75},
  {"mode":"Literature","metric":"Experimental Success","model":"Ours","score":1,"j":-0.65},
  {"mode":"Literature","metric":"Experimental Success","model":"Ours","score":1,"j":-0.54},
  {"mode":"Literature","metric":"Experimental Success","model":"Ours","score":1,"j":-0.45},
  {"mode":"Literature","metric":"Experimental Success","model":"Ours","score":1,"j":-0.31},
  {"mode":"Literature","metric":"Experimental Success","model":"Ours","score":1,"j":-0.22},
  {"mode":"Literature","metric":"Experimental Success","model":"Ours","score":1,"j":-0.11},
  {"mode":"Literature","metric":"Experimental Success","model":"Ours","score":1,"j":0.09},
  {"mode":"Literature","metric":"Experimental Success","model":"Ours","score":1,"j":0.18},
  {"mode":"Literature","metric":"Experimental Success","model":"Ours","score":1,"j":0.29},
  {"mode":"Literature","metric":"Experimental Success","model":"Ours","score":1,"j":0.49},
  {"mode":"Literature","metric":"Experimental Success","model":"Ours","score":1,"j":0.58},
  {"mode":"Literature","metric":"Experimental Success","model":"Ours","score":1,"j":0.69},
  {"mode":"Literature","metric":"Experimental Success","model":"Ours","score":0.667,"j":-0.41},
  {"mode":"Literature","metric":"Experimental Success","model":"Ours","score":0.667,"j":0},
  {"mode":"Literature","metric":"Experimental Success","model":"Ours","score":0.667,"j":0.26},
  {"mode":"Literature","metric":"Experimental Success","model":"Ours","score":0.667,"j":0.35},
  {"mode":"Task","metric":"Experimental Success","model":"Gemini-2.5-Pro","score":1,"j":-0.25},
  {"mode":"Task","metric":"Experimental Success","model":"Gemini-2.5-Pro","score":1,"j":0.18},
  {"mode":"Task","metric":"Experimental Success","model":"Gemini-2.5-Pro","score":1,"j":0.39},
  {"mode":"Task","metric":"Experimental Success","model":"Gemini-2.5-Pro","score":0.667,"j":-0.65},
  {"mode":"Task","metric":"Experimental Success","model":"Gemini-2.5-Pro","score":0.667,"j":-0.51},
  {"mode":"Task","metric":"Experimental Success","model":"Gemini-2.5-Pro","score":0.667,"j":-0.41},
  {"mode":"Task","metric":"Experimental Success","model":"Gemini-2.5-Pro","score":0.667,"j":-0.17},
  {"mode":"Task","metric":"Experimental Success","model":"Gemini-2.5-Pro","score":0.667,"j":0.09},
  {"mode":"Task","metric":"Experimental Success","model":"Gemini-2.5-Pro","score":0.667,"j":0.26},
  {"mode":"Task","metric":"Experimental Success","model":"Gemini-2.5-Pro","score":0.667,"j":0.35},
  {"mode":"Task","metric":"Experimental Success","model":"Gemini-2.5-Pro","score":0.667,"j":0.65},
  {"mode":"Task","metric":"Experimental Success","model":"Gemini-2.5-Pro","score":0.333,"j":-0.55},
  {"mode":"Task","metric":"Experimental Success","model":"Gemini-2.5-Pro","score":0.333,"j":-0.09},
  {"mode":"Task","metric":"Experimental Success","model":"Gemini-2.5-Pro","score":0.333,"j":0.02},
  {"mode":"Task","metric":"Experimental Success","model":"Gemini-2.5-Pro","score":0.333,"j":0.49},
  {"mode":"Task","metric":"Experimental Success","model":"Gemini-2.5-Pro","score":0.333,"j":0.58},
  {"mode":"Task","metric":"Experimental Success","model":"Gemini-2.5-Pro","score":0,"j":-0.71},
  {"mode":"Task","metric":"Experimental Success","model":"Gemini-2.5-Pro","score":0,"j":-0.31},
  {"mode":"Task","metric":"Experimental Success","model":"Gemini-2.5-Pro","score":0,"j":0.73},
  {"mode":"Task","metric":"Experimental Success","model":"GPT-5","score":1,"j":-0.75},
  {"mode":"Task","metric":"Experimental Success","model":"GPT-5","score":1,"j":-0.57},
  {"mode":"Task","metric":"Experimental Success","model":"GPT-5","score":1,"j":-0.25},
  {"mode":"Task","metric":"Experimental Success","model":"GPT-5","score":1,"j":-0.08},
  {"mode":"Task","metric":"Experimental Success","model":"GPT-5","score":1,"j":0.25},
  {"mode":"Task","metric":"Experimental Success","model":"GPT-5","score":1,"j":0.45},
  {"mode":"Task","metric":"Experimental Success","model":"GPT-5","score":1,"j":0.59},
  {"mode":"Task","metric":"Experimental Success","model":"GPT-5","score":1,"j":0.72},
  {"mode":"Task","metric":"Experimental Success","model":"GPT-5","score":0.667,"j":-0.68},
  {"mode":"Task","metric":"Experimental Success","model":"GPT-5","score":0.667,"j":-0.55},
  {"mode":"Task","metric":"Experimental Success","model":"GPT-5","score":0.667,"j":-0.35},
  {"mode":"Task","metric":"Experimental Success","model":"GPT-5","score":0.667,"j":-0.01},
  {"mode":"Task","metric":"Experimental Success","model":"GPT-5","score":0.667,"j":0.12},
  {"mode":"Task","metric":"Experimental Success","model":"GPT-5","score":0.667,"j":0.28},
  {"mode":"Task","metric":"Experimental Success","model":"GPT-5","score":0.667,"j":0.55},
  {"mode":"Task","metric":"Experimental Success","model":"GPT-5","score":0.333,"j":-0.41},
  {"mode":"Task","metric":"Experimental Success","model":"GPT-5","score":0.333,"j":-0.17},
  {"mode":"Task","metric":"Experimental Success","model":"GPT-5","score":0.333,"j":0.39},
  {"mode":"Task","metric":"Experimental Success","model":"Ours","score":1,"j":-0.73},
  {"mode":"Task","metric":"Experimental Success","model":"Ours","score":1,"j":-0.63},
  {"mode":"Task","metric":"Experimental Success","model":"Ours","score":1,"j":-0.5},
  {"mode":"Task","metric":"Experimental Success","model":"Ours","score":1,"j":-0.41},
  {"mode":"Task","metric":"Experimental Success","model":"Ours","score":1,"j":-0.37},
  {"mode":"Task","metric":"Experimental Success","model":"Ours","score":1,"j":-0.27},
  {"mode":"Task","metric":"Experimental Success","model":"Ours","score":1,"j":-0.1},
  {"mode":"Task","metric":"Experimental Success","model":"Ours","score":1,"j":-0.03},
  {"mode":"Task","metric":"Experimental Success","model":"Ours","score":1,"j":0.39},
  {"mode":"Task","metric":"Experimental Success","model":"Ours","score":1,"j":0.5},
  {"mode":"Task","metric":"Experimental Success","model":"Ours","score":1,"j":0.66},
  {"mode":"Task","metric":"Experimental Success","model":"Ours","score":1,"j":0.74},
  {"mode":"Task","metric":"Experimental Success","model":"Ours","score":0.667,"j":-0.5},
  {"mode":"Task","metric":"Experimental Success","model":"Ours","score":0.667,"j":-0.17},
  {"mode":"Task","metric":"Experimental Success","model":"Ours","score":0.667,"j":0.23},
  {"mode":"Task","metric":"Experimental Success","model":"Ours","score":0.667,"j":0.63},
  {"mode":"Task","metric":"Experimental Success","model":"Ours","score":0.333,"j":0.17},
  {"mode":"Task","metric":"Experimental Success","model":"Ours","score":0.333,"j":0.31}
 ],
 "legend": [
  {"model":"Gemini-2.5-Pro"},
  {"model":"GPT-5"},
  {"model":"Ours"}
 ],
 "none": []
},
"spacing": 12,
"vconcat": [
 {
  "spacing": 37,
  "vconcat": [
   {
    "title": {"text": "a", "anchor": "start", "frame": "group", "dx": -57, "fontSize": 18, "offset": 8},
    "bounds": "flush",
    "spacing": 68,
    "hconcat": [
     {
      "width": 287, "height": 200,
      "title": {"text": "Paper-based Reproduction Mode", "frame": "group", "dx": -6.5, "offset": 22},
      "resolve": {"scale": {"xOffset": "independent"}},
      "layer": [
       {"data": {"name": "barsA"}, "transform": [{"filter": {"field": "mode", "equal": "Paper"}}],
        "mark": {"type": "bar", "stroke": "#555", "strokeWidth": 1},
        "encoding": {
         "x": {"field": "metric", "type": "nominal", "title": null, "scale": {"type": "band", "domain": ["Algorithm Fidelity", "Pipeline Integrity"], "paddingInner": 0, "paddingOuter": 0}},
         "xOffset": {"field": "model", "type": "nominal", "scale": {"domain": ["Gemini-2.5-Pro", "GPT-5", "Ours"], "paddingInner": 0.12, "paddingOuter": 0.57}},
         "y": {"field": "mean", "type": "quantitative", "title": "Score", "scale": {"domain": [0, 5]}, "axis": {"values": [0, 0.5, 1, 1.5, 2, 2.5, 3, 3.5, 4, 4.5, 5], "tickCount": 20, "labelFontSize": 6.5, "titlePadding": 11}},
         "color": {"field": "model", "type": "nominal", "scale": {"domain": ["Gemini-2.5-Pro", "GPT-5", "Ours"], "range": ["#b897c0", "#b3b7d5", "#a0dfcd"]}, "legend": null}
        }},
       {"data": {"name": "ptsA"}, "transform": [{"filter": {"and": [{"field": "mode", "equal": "Paper"}, {"field": "model", "equal": "Gemini-2.5-Pro"}]}}],
        "mark": {"type": "circle", "size": 14, "stroke": "#777", "strokeWidth": 0.7, "opacity": 0.9},
        "encoding": {
         "x": {"field": "metric", "type": "nominal", "title": null, "scale": {"type": "band", "domain": ["Algorithm Fidelity", "Pipeline Integrity"], "paddingInner": 0, "paddingOuter": 0}},
         "xOffset": {"field": "j", "type": "quantitative", "scale": {"domain": [-2.575, 7.675], "nice": false, "zero": false}},
         "y": {"field": "score", "type": "quantitative", "title": "Score", "axis": {"values": [0, 0.5, 1, 1.5, 2, 2.5, 3, 3.5, 4, 4.5, 5], "tickCount": 20, "labelFontSize": 6.5, "titlePadding": 11}},
         "color": {"field": "model", "type": "nominal", "scale": {"domain": ["Gemini-2.5-Pro", "GPT-5", "Ours"], "range": ["#b897c0", "#b3b7d5", "#a0dfcd"]}, "legend": null}
        }},
       {"data": {"name": "ptsA"}, "transform": [{"filter": {"and": [{"field": "mode", "equal": "Paper"}, {"field": "model", "equal": "GPT-5"}]}}],
        "mark": {"type": "circle", "size": 14, "stroke": "#777", "strokeWidth": 0.7, "opacity": 0.9},
        "encoding": {
         "x": {"field": "metric", "type": "nominal", "title": null, "scale": {"type": "band", "domain": ["Algorithm Fidelity", "Pipeline Integrity"], "paddingInner": 0, "paddingOuter": 0}},
         "xOffset": {"field": "j", "type": "quantitative", "scale": {"domain": [-5.125, 5.125], "nice": false, "zero": false}},
         "y": {"field": "score", "type": "quantitative", "title": "Score", "axis": {"values": [0, 0.5, 1, 1.5, 2, 2.5, 3, 3.5, 4, 4.5, 5], "tickCount": 20, "labelFontSize": 6.5, "titlePadding": 11}},
         "color": {"field": "model", "type": "nominal", "scale": {"domain": ["Gemini-2.5-Pro", "GPT-5", "Ours"], "range": ["#b897c0", "#b3b7d5", "#a0dfcd"]}, "legend": null}
        }},
       {"data": {"name": "ptsA"}, "transform": [{"filter": {"and": [{"field": "mode", "equal": "Paper"}, {"field": "model", "equal": "Ours"}]}}],
        "mark": {"type": "circle", "size": 14, "stroke": "#777", "strokeWidth": 0.7, "opacity": 0.9},
        "encoding": {
         "x": {"field": "metric", "type": "nominal", "title": null, "scale": {"type": "band", "domain": ["Algorithm Fidelity", "Pipeline Integrity"], "paddingInner": 0, "paddingOuter": 0}},
         "xOffset": {"field": "j", "type": "quantitative", "scale": {"domain": [-7.675, 2.575], "nice": false, "zero": false}},
         "y": {"field": "score", "type": "quantitative", "title": "Score", "axis": {"values": [0, 0.5, 1, 1.5, 2, 2.5, 3, 3.5, 4, 4.5, 5], "tickCount": 20, "labelFontSize": 6.5, "titlePadding": 11}},
         "color": {"field": "model", "type": "nominal", "scale": {"domain": ["Gemini-2.5-Pro", "GPT-5", "Ours"], "range": ["#b897c0", "#b3b7d5", "#a0dfcd"]}, "legend": null}
        }},
       {"data": {"name": "barsA"}, "transform": [{"filter": {"field": "mode", "equal": "Paper"}}],
        "mark": {"type": "rule", "color": "#222", "strokeWidth": 1.3, "clip": true},
        "encoding": {
         "x": {"field": "metric", "type": "nominal", "title": null, "scale": {"type": "band", "domain": ["Algorithm Fidelity", "Pipeline Integrity"], "paddingInner": 0, "paddingOuter": 0}},
         "xOffset": {"field": "model", "type": "nominal", "scale": {"domain": ["Gemini-2.5-Pro", "GPT-5", "Ours"], "paddingInner": 0.12, "paddingOuter": 0.57}},
         "y": {"field": "lo", "type": "quantitative", "title": "Score", "axis": {"values": [0, 0.5, 1, 1.5, 2, 2.5, 3, 3.5, 4, 4.5, 5], "tickCount": 20, "labelFontSize": 6.5, "titlePadding": 11}},
         "y2": {"field": "hi"}
        }},
       {"data": {"name": "barsA"}, "transform": [{"filter": {"field": "mode", "equal": "Paper"}}],
        "mark": {"type": "tick", "orient": "horizontal", "color": "#222", "thickness": 1.3, "size": 7, "clip": true},
        "encoding": {
         "x": {"field": "metric", "type": "nominal", "title": null, "scale": {"type": "band", "domain": ["Algorithm Fidelity", "Pipeline Integrity"], "paddingInner": 0, "paddingOuter": 0}},
         "xOffset": {"field": "model", "type": "nominal", "scale": {"domain": ["Gemini-2.5-Pro", "GPT-5", "Ours"], "paddingInner": 0.12, "paddingOuter": 0.57}},
         "y": {"field": "lo", "type": "quantitative", "title": "Score", "axis": {"values": [0, 0.5, 1, 1.5, 2, 2.5, 3, 3.5, 4, 4.5, 5], "tickCount": 20, "labelFontSize": 6.5, "titlePadding": 11}}
        }},
       {"data": {"name": "barsA"}, "transform": [{"filter": {"field": "mode", "equal": "Paper"}}],
        "mark": {"type": "tick", "orient": "horizontal", "color": "#222", "thickness": 1.3, "size": 7, "clip": true},
        "encoding": {
         "x": {"field": "metric", "type": "nominal", "title": null, "scale": {"type": "band", "domain": ["Algorithm Fidelity", "Pipeline Integrity"], "paddingInner": 0, "paddingOuter": 0}},
         "xOffset": {"field": "model", "type": "nominal", "scale": {"domain": ["Gemini-2.5-Pro", "GPT-5", "Ours"], "paddingInner": 0.12, "paddingOuter": 0.57}},
         "y": {"field": "hi", "type": "quantitative", "title": "Score", "axis": {"values": [0, 0.5, 1, 1.5, 2, 2.5, 3, 3.5, 4, 4.5, 5], "tickCount": 20, "labelFontSize": 6.5, "titlePadding": 11}}
        }}
      ]
     },
     {
      "bounds": "flush",
      "spacing": 59,
      "hconcat": [
       {
        "width": 287, "height": 200,
        "title": {"text": "Literature-inspired Innovation Mode", "frame": "group", "dx": -19, "offset": 22},
        "resolve": {"scale": {"xOffset": "independent"}},
        "layer": [
         {"data": {"name": "barsA"}, "transform": [{"filter": {"field": "mode", "equal": "Literature"}}],
          "mark": {"type": "bar", "stroke": "#555", "strokeWidth": 1},
          "encoding": {
           "x": {"field": "metric", "type": "nominal", "title": null, "scale": {"type": "band", "domain": ["Algorithm Fidelity", "Pipeline Integrity"], "paddingInner": 0, "paddingOuter": 0}},
           "xOffset": {"field": "model", "type": "nominal", "scale": {"domain": ["Gemini-2.5-Pro", "GPT-5", "Ours"], "paddingInner": 0.12, "paddingOuter": 0.57}},
           "y": {"field": "mean", "type": "quantitative", "title": null, "scale": {"domain": [0, 5]}, "axis": {"values": [0, 0.5, 1, 1.5, 2, 2.5, 3, 3.5, 4, 4.5, 5], "tickCount": 20, "labelFontSize": 6.5}},
           "color": {"field": "model", "type": "nominal", "scale": {"domain": ["Gemini-2.5-Pro", "GPT-5", "Ours"], "range": ["#b897c0", "#b3b7d5", "#a0dfcd"]}, "legend": null}
          }},
         {"data": {"name": "ptsA"}, "transform": [{"filter": {"and": [{"field": "mode", "equal": "Literature"}, {"field": "model", "equal": "Gemini-2.5-Pro"}]}}],
          "mark": {"type": "circle", "size": 14, "stroke": "#777", "strokeWidth": 0.7, "opacity": 0.9},
          "encoding": {
           "x": {"field": "metric", "type": "nominal", "title": null, "scale": {"type": "band", "domain": ["Algorithm Fidelity", "Pipeline Integrity"], "paddingInner": 0, "paddingOuter": 0}},
           "xOffset": {"field": "j", "type": "quantitative", "scale": {"domain": [-2.575, 7.675], "nice": false, "zero": false}},
           "y": {"field": "score", "type": "quantitative", "title": null, "axis": {"values": [0, 0.5, 1, 1.5, 2, 2.5, 3, 3.5, 4, 4.5, 5], "tickCount": 20, "labelFontSize": 6.5}},
           "color": {"field": "model", "type": "nominal", "scale": {"domain": ["Gemini-2.5-Pro", "GPT-5", "Ours"], "range": ["#b897c0", "#b3b7d5", "#a0dfcd"]}, "legend": null}
          }},
         {"data": {"name": "ptsA"}, "transform": [{"filter": {"and": [{"field": "mode", "equal": "Literature"}, {"field": "model", "equal": "GPT-5"}]}}],
          "mark": {"type": "circle", "size": 14, "stroke": "#777", "strokeWidth": 0.7, "opacity": 0.9},
          "encoding": {
           "x": {"field": "metric", "type": "nominal", "title": null, "scale": {"type": "band", "domain": ["Algorithm Fidelity", "Pipeline Integrity"], "paddingInner": 0, "paddingOuter": 0}},
           "xOffset": {"field": "j", "type": "quantitative", "scale": {"domain": [-5.125, 5.125], "nice": false, "zero": false}},
           "y": {"field": "score", "type": "quantitative", "title": null, "axis": {"values": [0, 0.5, 1, 1.5, 2, 2.5, 3, 3.5, 4, 4.5, 5], "tickCount": 20, "labelFontSize": 6.5}},
           "color": {"field": "model", "type": "nominal", "scale": {"domain": ["Gemini-2.5-Pro", "GPT-5", "Ours"], "range": ["#b897c0", "#b3b7d5", "#a0dfcd"]}, "legend": null}
          }},
         {"data": {"name": "ptsA"}, "transform": [{"filter": {"and": [{"field": "mode", "equal": "Literature"}, {"field": "model", "equal": "Ours"}]}}],
          "mark": {"type": "circle", "size": 14, "stroke": "#777", "strokeWidth": 0.7, "opacity": 0.9},
          "encoding": {
           "x": {"field": "metric", "type": "nominal", "title": null, "scale": {"type": "band", "domain": ["Algorithm Fidelity", "Pipeline Integrity"], "paddingInner": 0, "paddingOuter": 0}},
           "xOffset": {"field": "j", "type": "quantitative", "scale": {"domain": [-7.675, 2.575], "nice": false, "zero": false}},
           "y": {"field": "score", "type": "quantitative", "title": null, "axis": {"values": [0, 0.5, 1, 1.5, 2, 2.5, 3, 3.5, 4, 4.5, 5], "tickCount": 20, "labelFontSize": 6.5}},
           "color": {"field": "model", "type": "nominal", "scale": {"domain": ["Gemini-2.5-Pro", "GPT-5", "Ours"], "range": ["#b897c0", "#b3b7d5", "#a0dfcd"]}, "legend": null}
          }},
         {"data": {"name": "barsA"}, "transform": [{"filter": {"field": "mode", "equal": "Literature"}}],
          "mark": {"type": "rule", "color": "#222", "strokeWidth": 1.3, "clip": true},
          "encoding": {
           "x": {"field": "metric", "type": "nominal", "title": null, "scale": {"type": "band", "domain": ["Algorithm Fidelity", "Pipeline Integrity"], "paddingInner": 0, "paddingOuter": 0}},
           "xOffset": {"field": "model", "type": "nominal", "scale": {"domain": ["Gemini-2.5-Pro", "GPT-5", "Ours"], "paddingInner": 0.12, "paddingOuter": 0.57}},
           "y": {"field": "lo", "type": "quantitative", "title": null, "axis": {"values": [0, 0.5, 1, 1.5, 2, 2.5, 3, 3.5, 4, 4.5, 5], "tickCount": 20, "labelFontSize": 6.5}},
           "y2": {"field": "hi"}
          }},
         {"data": {"name": "barsA"}, "transform": [{"filter": {"field": "mode", "equal": "Literature"}}],
          "mark": {"type": "tick", "orient": "horizontal", "color": "#222", "thickness": 1.3, "size": 7, "clip": true},
          "encoding": {
           "x": {"field": "metric", "type": "nominal", "title": null, "scale": {"type": "band", "domain": ["Algorithm Fidelity", "Pipeline Integrity"], "paddingInner": 0, "paddingOuter": 0}},
           "xOffset": {"field": "model", "type": "nominal", "scale": {"domain": ["Gemini-2.5-Pro", "GPT-5", "Ours"], "paddingInner": 0.12, "paddingOuter": 0.57}},
           "y": {"field": "lo", "type": "quantitative", "title": null, "axis": {"values": [0, 0.5, 1, 1.5, 2, 2.5, 3, 3.5, 4, 4.5, 5], "tickCount": 20, "labelFontSize": 6.5}}
          }},
         {"data": {"name": "barsA"}, "transform": [{"filter": {"field": "mode", "equal": "Literature"}}],
          "mark": {"type": "tick", "orient": "horizontal", "color": "#222", "thickness": 1.3, "size": 7, "clip": true},
          "encoding": {
           "x": {"field": "metric", "type": "nominal", "title": null, "scale": {"type": "band", "domain": ["Algorithm Fidelity", "Pipeline Integrity"], "paddingInner": 0, "paddingOuter": 0}},
           "xOffset": {"field": "model", "type": "nominal", "scale": {"domain": ["Gemini-2.5-Pro", "GPT-5", "Ours"], "paddingInner": 0.12, "paddingOuter": 0.57}},
           "y": {"field": "hi", "type": "quantitative", "title": null, "axis": {"values": [0, 0.5, 1, 1.5, 2, 2.5, 3, 3.5, 4, 4.5, 5], "tickCount": 20, "labelFontSize": 6.5}}
          }}
        ]
       },
       {
        "width": 287, "height": 200,
        "title": {"text": "Task-driven Exploration Mode", "frame": "group", "dx": -26, "offset": 22},
        "resolve": {"scale": {"xOffset": "independent"}},
        "layer": [
         {"data": {"name": "barsA"}, "transform": [{"filter": {"field": "mode", "equal": "Task"}}],
          "mark": {"type": "bar", "stroke": "#555", "strokeWidth": 1},
          "encoding": {
           "x": {"field": "metric", "type": "nominal", "title": null, "scale": {"type": "band", "domain": ["Algorithm Fidelity", "Pipeline Integrity"], "paddingInner": 0, "paddingOuter": 0}},
           "xOffset": {"field": "model", "type": "nominal", "scale": {"domain": ["Gemini-2.5-Pro", "GPT-5", "Ours"], "paddingInner": 0.12, "paddingOuter": 0.57}},
           "y": {"field": "mean", "type": "quantitative", "title": null, "scale": {"domain": [0, 5]}, "axis": {"values": [0, 0.5, 1, 1.5, 2, 2.5, 3, 3.5, 4, 4.5, 5], "tickCount": 20, "labelFontSize": 6.5}},
           "color": {"field": "model", "type": "nominal", "scale": {"domain": ["Gemini-2.5-Pro", "GPT-5", "Ours"], "range": ["#b897c0", "#b3b7d5", "#a0dfcd"]}, "legend": null}
          }},
         {"data": {"name": "ptsA"}, "transform": [{"filter": {"and": [{"field": "mode", "equal": "Task"}, {"field": "model", "equal": "Gemini-2.5-Pro"}]}}],
          "mark": {"type": "circle", "size": 14, "stroke": "#777", "strokeWidth": 0.7, "opacity": 0.9},
          "encoding": {
           "x": {"field": "metric", "type": "nominal", "title": null, "scale": {"type": "band", "domain": ["Algorithm Fidelity", "Pipeline Integrity"], "paddingInner": 0, "paddingOuter": 0}},
           "xOffset": {"field": "j", "type": "quantitative", "scale": {"domain": [-2.575, 7.675], "nice": false, "zero": false}},
           "y": {"field": "score", "type": "quantitative", "title": null, "axis": {"values": [0, 0.5, 1, 1.5, 2, 2.5, 3, 3.5, 4, 4.5, 5], "tickCount": 20, "labelFontSize": 6.5}},
           "color": {"field": "model", "type": "nominal", "scale": {"domain": ["Gemini-2.5-Pro", "GPT-5", "Ours"], "range": ["#b897c0", "#b3b7d5", "#a0dfcd"]}, "legend": null}
          }},
         {"data": {"name": "ptsA"}, "transform": [{"filter": {"and": [{"field": "mode", "equal": "Task"}, {"field": "model", "equal": "GPT-5"}]}}],
          "mark": {"type": "circle", "size": 14, "stroke": "#777", "strokeWidth": 0.7, "opacity": 0.9},
          "encoding": {
           "x": {"field": "metric", "type": "nominal", "title": null, "scale": {"type": "band", "domain": ["Algorithm Fidelity", "Pipeline Integrity"], "paddingInner": 0, "paddingOuter": 0}},
           "xOffset": {"field": "j", "type": "quantitative", "scale": {"domain": [-5.125, 5.125], "nice": false, "zero": false}},
           "y": {"field": "score", "type": "quantitative", "title": null, "axis": {"values": [0, 0.5, 1, 1.5, 2, 2.5, 3, 3.5, 4, 4.5, 5], "tickCount": 20, "labelFontSize": 6.5}},
           "color": {"field": "model", "type": "nominal", "scale": {"domain": ["Gemini-2.5-Pro", "GPT-5", "Ours"], "range": ["#b897c0", "#b3b7d5", "#a0dfcd"]}, "legend": null}
          }},
         {"data": {"name": "ptsA"}, "transform": [{"filter": {"and": [{"field": "mode", "equal": "Task"}, {"field": "model", "equal": "Ours"}]}}],
          "mark": {"type": "circle", "size": 14, "stroke": "#777", "strokeWidth": 0.7, "opacity": 0.9},
          "encoding": {
           "x": {"field": "metric", "type": "nominal", "title": null, "scale": {"type": "band", "domain": ["Algorithm Fidelity", "Pipeline Integrity"], "paddingInner": 0, "paddingOuter": 0}},
           "xOffset": {"field": "j", "type": "quantitative", "scale": {"domain": [-7.675, 2.575], "nice": false, "zero": false}},
           "y": {"field": "score", "type": "quantitative", "title": null, "axis": {"values": [0, 0.5, 1, 1.5, 2, 2.5, 3, 3.5, 4, 4.5, 5], "tickCount": 20, "labelFontSize": 6.5}},
           "color": {"field": "model", "type": "nominal", "scale": {"domain": ["Gemini-2.5-Pro", "GPT-5", "Ours"], "range": ["#b897c0", "#b3b7d5", "#a0dfcd"]}, "legend": null}
          }},
         {"data": {"name": "barsA"}, "transform": [{"filter": {"field": "mode", "equal": "Task"}}],
          "mark": {"type": "rule", "color": "#222", "strokeWidth": 1.3, "clip": true},
          "encoding": {
           "x": {"field": "metric", "type": "nominal", "title": null, "scale": {"type": "band", "domain": ["Algorithm Fidelity", "Pipeline Integrity"], "paddingInner": 0, "paddingOuter": 0}},
           "xOffset": {"field": "model", "type": "nominal", "scale": {"domain": ["Gemini-2.5-Pro", "GPT-5", "Ours"], "paddingInner": 0.12, "paddingOuter": 0.57}},
           "y": {"field": "lo", "type": "quantitative", "title": null, "axis": {"values": [0, 0.5, 1, 1.5, 2, 2.5, 3, 3.5, 4, 4.5, 5], "tickCount": 20, "labelFontSize": 6.5}},
           "y2": {"field": "hi"}
          }},
         {"data": {"name": "barsA"}, "transform": [{"filter": {"field": "mode", "equal": "Task"}}],
          "mark": {"type": "tick", "orient": "horizontal", "color": "#222", "thickness": 1.3, "size": 7, "clip": true},
          "encoding": {
           "x": {"field": "metric", "type": "nominal", "title": null, "scale": {"type": "band", "domain": ["Algorithm Fidelity", "Pipeline Integrity"], "paddingInner": 0, "paddingOuter": 0}},
           "xOffset": {"field": "model", "type": "nominal", "scale": {"domain": ["Gemini-2.5-Pro", "GPT-5", "Ours"], "paddingInner": 0.12, "paddingOuter": 0.57}},
           "y": {"field": "lo", "type": "quantitative", "title": null, "axis": {"values": [0, 0.5, 1, 1.5, 2, 2.5, 3, 3.5, 4, 4.5, 5], "tickCount": 20, "labelFontSize": 6.5}}
          }},
         {"data": {"name": "barsA"}, "transform": [{"filter": {"field": "mode", "equal": "Task"}}],
          "mark": {"type": "tick", "orient": "horizontal", "color": "#222", "thickness": 1.3, "size": 7, "clip": true},
          "encoding": {
           "x": {"field": "metric", "type": "nominal", "title": null, "scale": {"type": "band", "domain": ["Algorithm Fidelity", "Pipeline Integrity"], "paddingInner": 0, "paddingOuter": 0}},
           "xOffset": {"field": "model", "type": "nominal", "scale": {"domain": ["Gemini-2.5-Pro", "GPT-5", "Ours"], "paddingInner": 0.12, "paddingOuter": 0.57}},
           "y": {"field": "hi", "type": "quantitative", "title": null, "axis": {"values": [0, 0.5, 1, 1.5, 2, 2.5, 3, 3.5, 4, 4.5, 5], "tickCount": 20, "labelFontSize": 6.5}}
          }}
        ]
       }
      ]
     }
    ]
   },
   {
    "width": 610, "height": 20,
    "data": {"name": "legend"},
    "layer": [
     {"mark": {"type": "square", "size": 330, "filled": true, "stroke": "#555", "strokeWidth": 1.2, "opacity": 1},
      "encoding": {
       "x": {"field": "model", "type": "nominal", "axis": null, "scale": {"type": "point", "domain": ["Gemini-2.5-Pro", "GPT-5", "Ours"], "padding": 0.837, "align": 1}},
       "color": {"field": "model", "type": "nominal", "scale": {"domain": ["Gemini-2.5-Pro", "GPT-5", "Ours"], "range": ["#b897c0", "#b3b7d5", "#a0dfcd"]}, "legend": null}
      }},
     {"mark": {"type": "text", "align": "left", "baseline": "middle", "dx": 20, "fontSize": 15, "color": "#222"},
      "encoding": {
       "x": {"field": "model", "type": "nominal", "axis": null, "scale": {"type": "point", "domain": ["Gemini-2.5-Pro", "GPT-5", "Ours"], "padding": 0.837, "align": 1}},
       "text": {"field": "model"}
      }}
    ]
   }
  ]
 },
 {
  "spacing": 31,
  "vconcat": [
   {
    "title": {"text": "b", "anchor": "start", "frame": "group", "dx": -57, "fontSize": 18, "offset": 4},
    "bounds": "flush",
    "spacing": 26,
    "hconcat": [
     {"width": 1, "height": 1, "data": {"name": "none"}, "mark": {"type": "point"}, "encoding": {}},
     {
      "bounds": "flush",
      "spacing": 105.5,
      "hconcat": [
       {
        "width": 242, "height": 213,
        "title": {"text": "Paper-based Reproduction Mode", "frame": "group", "dx": -11, "offset": 20},
        "resolve": {"scale": {"xOffset": "independent"}},
        "layer": [
         {"data": {"name": "barsB"}, "transform": [{"filter": {"field": "mode", "equal": "Paper"}}],
          "mark": {"type": "bar", "stroke": "#555", "strokeWidth": 1},
          "encoding": {
           "x": {"field": "metric", "type": "nominal", "title": null, "scale": {"type": "band", "domain": ["Experimental Success"], "paddingInner": 0, "paddingOuter": 0}, "axis": {"labelPadding": 10}},
           "xOffset": {"field": "model", "type": "nominal", "scale": {"domain": ["Gemini-2.5-Pro", "GPT-5", "Ours"], "paddingInner": 0.138, "paddingOuter": 0.28}},
           "y": {"field": "mean", "type": "quantitative", "title": "Success Rate", "scale": {"domain": [0, 1.05]}, "axis": {"values": [0, 0.1, 0.2, 0.3, 0.4, 0.5, 0.6, 0.7, 0.8, 0.9, 1], "tickCount": 20, "labelFontSize": 8.5, "titlePadding": 16}},
           "color": {"field": "model", "type": "nominal", "scale": {"domain": ["Gemini-2.5-Pro", "GPT-5", "Ours"], "range": ["#b897c0", "#b3b7d5", "#a0dfcd"]}, "legend": null}
          }},
         {"data": {"name": "ptsB"}, "transform": [{"filter": {"and": [{"field": "mode", "equal": "Paper"}, {"field": "model", "equal": "Gemini-2.5-Pro"}]}}],
          "mark": {"type": "circle", "size": 20, "stroke": "#777", "strokeWidth": 0.7, "opacity": 0.9},
          "encoding": {
           "x": {"field": "metric", "type": "nominal", "title": null, "scale": {"type": "band", "domain": ["Experimental Success"], "paddingInner": 0, "paddingOuter": 0}, "axis": {"labelPadding": 10}},
           "xOffset": {"field": "j", "type": "quantitative", "scale": {"domain": [-2.011, 7.669], "nice": false, "zero": false}},
           "y": {"field": "score", "type": "quantitative", "title": "Success Rate", "axis": {"values": [0, 0.1, 0.2, 0.3, 0.4, 0.5, 0.6, 0.7, 0.8, 0.9, 1], "tickCount": 20, "labelFontSize": 8.5, "titlePadding": 16}},
           "color": {"field": "model", "type": "nominal", "scale": {"domain": ["Gemini-2.5-Pro", "GPT-5", "Ours"], "range": ["#b897c0", "#b3b7d5", "#a0dfcd"]}, "legend": null}
          }},
         {"data": {"name": "ptsB"}, "transform": [{"filter": {"and": [{"field": "mode", "equal": "Paper"}, {"field": "model", "equal": "GPT-5"}]}}],
          "mark": {"type": "circle", "size": 20, "stroke": "#777", "strokeWidth": 0.7, "opacity": 0.9},
          "encoding": {
           "x": {"field": "metric", "type": "nominal", "title": null, "scale": {"type": "band", "domain": ["Experimental Success"], "paddingInner": 0, "paddingOuter": 0}, "axis": {"labelPadding": 10}},
           "xOffset": {"field": "j", "type": "quantitative", "scale": {"domain": [-4.84, 4.84], "nice": false, "zero": false}},
           "y": {"field": "score", "type": "quantitative", "title": "Success Rate", "axis": {"values": [0, 0.1, 0.2, 0.3, 0.4, 0.5, 0.6, 0.7, 0.8, 0.9, 1], "tickCount": 20, "labelFontSize": 8.5, "titlePadding": 16}},
           "color": {"field": "model", "type": "nominal", "scale": {"domain": ["Gemini-2.5-Pro", "GPT-5", "Ours"], "range": ["#b897c0", "#b3b7d5", "#a0dfcd"]}, "legend": null}
          }},
         {"data": {"name": "ptsB"}, "transform": [{"filter": {"and": [{"field": "mode", "equal": "Paper"}, {"field": "model", "equal": "Ours"}]}}],
          "mark": {"type": "circle", "size": 20, "stroke": "#777", "strokeWidth": 0.7, "opacity": 0.9},
          "encoding": {
           "x": {"field": "metric", "type": "nominal", "title": null, "scale": {"type": "band", "domain": ["Experimental Success"], "paddingInner": 0, "paddingOuter": 0}, "axis": {"labelPadding": 10}},
           "xOffset": {"field": "j", "type": "quantitative", "scale": {"domain": [-7.669, 2.011], "nice": false, "zero": false}},
           "y": {"field": "score", "type": "quantitative", "title": "Success Rate", "axis": {"values": [0, 0.1, 0.2, 0.3, 0.4, 0.5, 0.6, 0.7, 0.8, 0.9, 1], "tickCount": 20, "labelFontSize": 8.5, "titlePadding": 16}},
           "color": {"field": "model", "type": "nominal", "scale": {"domain": ["Gemini-2.5-Pro", "GPT-5", "Ours"], "range": ["#b897c0", "#b3b7d5", "#a0dfcd"]}, "legend": null}
          }},
         {"data": {"name": "barsB"}, "transform": [{"filter": {"field": "mode", "equal": "Paper"}}],
          "mark": {"type": "rule", "color": "#222", "strokeWidth": 1.3, "clip": true},
          "encoding": {
           "x": {"field": "metric", "type": "nominal", "title": null, "scale": {"type": "band", "domain": ["Experimental Success"], "paddingInner": 0, "paddingOuter": 0}, "axis": {"labelPadding": 10}},
           "xOffset": {"field": "model", "type": "nominal", "scale": {"domain": ["Gemini-2.5-Pro", "GPT-5", "Ours"], "paddingInner": 0.138, "paddingOuter": 0.28}},
           "y": {"field": "lo", "type": "quantitative", "title": "Success Rate", "axis": {"values": [0, 0.1, 0.2, 0.3, 0.4, 0.5, 0.6, 0.7, 0.8, 0.9, 1], "tickCount": 20, "labelFontSize": 8.5, "titlePadding": 16}},
           "y2": {"field": "hi"}
          }},
         {"data": {"name": "barsB"}, "transform": [{"filter": {"field": "mode", "equal": "Paper"}}],
          "mark": {"type": "tick", "orient": "horizontal", "color": "#222", "thickness": 1.3, "size": 9, "clip": true},
          "encoding": {
           "x": {"field": "metric", "type": "nominal", "title": null, "scale": {"type": "band", "domain": ["Experimental Success"], "paddingInner": 0, "paddingOuter": 0}, "axis": {"labelPadding": 10}},
           "xOffset": {"field": "model", "type": "nominal", "scale": {"domain": ["Gemini-2.5-Pro", "GPT-5", "Ours"], "paddingInner": 0.138, "paddingOuter": 0.28}},
           "y": {"field": "lo", "type": "quantitative", "title": "Success Rate", "axis": {"values": [0, 0.1, 0.2, 0.3, 0.4, 0.5, 0.6, 0.7, 0.8, 0.9, 1], "tickCount": 20, "labelFontSize": 8.5, "titlePadding": 16}}
          }},
         {"data": {"name": "barsB"}, "transform": [{"filter": {"field": "mode", "equal": "Paper"}}],
          "mark": {"type": "tick", "orient": "horizontal", "color": "#222", "thickness": 1.3, "size": 9, "clip": true},
          "encoding": {
           "x": {"field": "metric", "type": "nominal", "title": null, "scale": {"type": "band", "domain": ["Experimental Success"], "paddingInner": 0, "paddingOuter": 0}, "axis": {"labelPadding": 10}},
           "xOffset": {"field": "model", "type": "nominal", "scale": {"domain": ["Gemini-2.5-Pro", "GPT-5", "Ours"], "paddingInner": 0.138, "paddingOuter": 0.28}},
           "y": {"field": "hi", "type": "quantitative", "title": "Success Rate", "axis": {"values": [0, 0.1, 0.2, 0.3, 0.4, 0.5, 0.6, 0.7, 0.8, 0.9, 1], "tickCount": 20, "labelFontSize": 8.5, "titlePadding": 16}}
          }}
        ]
       },
       {
        "width": 242, "height": 213,
        "title": {"text": "Literature-inspired Innovation Mode", "frame": "group", "dx": -16.5, "offset": 20},
        "resolve": {"scale": {"xOffset": "independent"}},
        "layer": [
         {"data": {"name": "barsB"}, "transform": [{"filter": {"field": "mode", "equal": "Literature"}}],
          "mark": {"type": "bar", "stroke": "#555", "strokeWidth": 1},
          "encoding": {
           "x": {"field": "metric", "type": "nominal", "title": null, "scale": {"type": "band", "domain": ["Experimental Success"], "paddingInner": 0, "paddingOuter": 0}, "axis": {"labelPadding": 10}},
           "xOffset": {"field": "model", "type": "nominal", "scale": {"domain": ["Gemini-2.5-Pro", "GPT-5", "Ours"], "paddingInner": 0.138, "paddingOuter": 0.28}},
           "y": {"field": "mean", "type": "quantitative", "title": null, "scale": {"domain": [0, 1.05]}, "axis": {"values": [0, 0.1, 0.2, 0.3, 0.4, 0.5, 0.6, 0.7, 0.8, 0.9, 1], "tickCount": 20, "labelFontSize": 8.5}},
           "color": {"field": "model", "type": "nominal", "scale": {"domain": ["Gemini-2.5-Pro", "GPT-5", "Ours"], "range": ["#b897c0", "#b3b7d5", "#a0dfcd"]}, "legend": null}
          }},
         {"data": {"name": "ptsB"}, "transform": [{"filter": {"and": [{"field": "mode", "equal": "Literature"}, {"field": "model", "equal": "Gemini-2.5-Pro"}]}}],
          "mark": {"type": "circle", "size": 20, "stroke": "#777", "strokeWidth": 0.7, "opacity": 0.9},
          "encoding": {
           "x": {"field": "metric", "type": "nominal", "title": null, "scale": {"type": "band", "domain": ["Experimental Success"], "paddingInner": 0, "paddingOuter": 0}, "axis": {"labelPadding": 10}},
           "xOffset": {"field": "j", "type": "quantitative", "scale": {"domain": [-2.011, 7.669], "nice": false, "zero": false}},
           "y": {"field": "score", "type": "quantitative", "title": null, "axis": {"values": [0, 0.1, 0.2, 0.3, 0.4, 0.5, 0.6, 0.7, 0.8, 0.9, 1], "tickCount": 20, "labelFontSize": 8.5}},
           "color": {"field": "model", "type": "nominal", "scale": {"domain": ["Gemini-2.5-Pro", "GPT-5", "Ours"], "range": ["#b897c0", "#b3b7d5", "#a0dfcd"]}, "legend": null}
          }},
         {"data": {"name": "ptsB"}, "transform": [{"filter": {"and": [{"field": "mode", "equal": "Literature"}, {"field": "model", "equal": "GPT-5"}]}}],
          "mark": {"type": "circle", "size": 20, "stroke": "#777", "strokeWidth": 0.7, "opacity": 0.9},
          "encoding": {
           "x": {"field": "metric", "type": "nominal", "title": null, "scale": {"type": "band", "domain": ["Experimental Success"], "paddingInner": 0, "paddingOuter": 0}, "axis": {"labelPadding": 10}},
           "xOffset": {"field": "j", "type": "quantitative", "scale": {"domain": [-4.84, 4.84], "nice": false, "zero": false}},
           "y": {"field": "score", "type": "quantitative", "title": null, "axis": {"values": [0, 0.1, 0.2, 0.3, 0.4, 0.5, 0.6, 0.7, 0.8, 0.9, 1], "tickCount": 20, "labelFontSize": 8.5}},
           "color": {"field": "model", "type": "nominal", "scale": {"domain": ["Gemini-2.5-Pro", "GPT-5", "Ours"], "range": ["#b897c0", "#b3b7d5", "#a0dfcd"]}, "legend": null}
          }},
         {"data": {"name": "ptsB"}, "transform": [{"filter": {"and": [{"field": "mode", "equal": "Literature"}, {"field": "model", "equal": "Ours"}]}}],
          "mark": {"type": "circle", "size": 20, "stroke": "#777", "strokeWidth": 0.7, "opacity": 0.9},
          "encoding": {
           "x": {"field": "metric", "type": "nominal", "title": null, "scale": {"type": "band", "domain": ["Experimental Success"], "paddingInner": 0, "paddingOuter": 0}, "axis": {"labelPadding": 10}},
           "xOffset": {"field": "j", "type": "quantitative", "scale": {"domain": [-7.669, 2.011], "nice": false, "zero": false}},
           "y": {"field": "score", "type": "quantitative", "title": null, "axis": {"values": [0, 0.1, 0.2, 0.3, 0.4, 0.5, 0.6, 0.7, 0.8, 0.9, 1], "tickCount": 20, "labelFontSize": 8.5}},
           "color": {"field": "model", "type": "nominal", "scale": {"domain": ["Gemini-2.5-Pro", "GPT-5", "Ours"], "range": ["#b897c0", "#b3b7d5", "#a0dfcd"]}, "legend": null}
          }},
         {"data": {"name": "barsB"}, "transform": [{"filter": {"field": "mode", "equal": "Literature"}}],
          "mark": {"type": "rule", "color": "#222", "strokeWidth": 1.3, "clip": true},
          "encoding": {
           "x": {"field": "metric", "type": "nominal", "title": null, "scale": {"type": "band", "domain": ["Experimental Success"], "paddingInner": 0, "paddingOuter": 0}, "axis": {"labelPadding": 10}},
           "xOffset": {"field": "model", "type": "nominal", "scale": {"domain": ["Gemini-2.5-Pro", "GPT-5", "Ours"], "paddingInner": 0.138, "paddingOuter": 0.28}},
           "y": {"field": "lo", "type": "quantitative", "title": null, "axis": {"values": [0, 0.1, 0.2, 0.3, 0.4, 0.5, 0.6, 0.7, 0.8, 0.9, 1], "tickCount": 20, "labelFontSize": 8.5}},
           "y2": {"field": "hi"}
          }},
         {"data": {"name": "barsB"}, "transform": [{"filter": {"field": "mode", "equal": "Literature"}}],
          "mark": {"type": "tick", "orient": "horizontal", "color": "#222", "thickness": 1.3, "size": 9, "clip": true},
          "encoding": {
           "x": {"field": "metric", "type": "nominal", "title": null, "scale": {"type": "band", "domain": ["Experimental Success"], "paddingInner": 0, "paddingOuter": 0}, "axis": {"labelPadding": 10}},
           "xOffset": {"field": "model", "type": "nominal", "scale": {"domain": ["Gemini-2.5-Pro", "GPT-5", "Ours"], "paddingInner": 0.138, "paddingOuter": 0.28}},
           "y": {"field": "lo", "type": "quantitative", "title": null, "axis": {"values": [0, 0.1, 0.2, 0.3, 0.4, 0.5, 0.6, 0.7, 0.8, 0.9, 1], "tickCount": 20, "labelFontSize": 8.5}}
          }},
         {"data": {"name": "barsB"}, "transform": [{"filter": {"field": "mode", "equal": "Literature"}}],
          "mark": {"type": "tick", "orient": "horizontal", "color": "#222", "thickness": 1.3, "size": 9, "clip": true},
          "encoding": {
           "x": {"field": "metric", "type": "nominal", "title": null, "scale": {"type": "band", "domain": ["Experimental Success"], "paddingInner": 0, "paddingOuter": 0}, "axis": {"labelPadding": 10}},
           "xOffset": {"field": "model", "type": "nominal", "scale": {"domain": ["Gemini-2.5-Pro", "GPT-5", "Ours"], "paddingInner": 0.138, "paddingOuter": 0.28}},
           "y": {"field": "hi", "type": "quantitative", "title": null, "axis": {"values": [0, 0.1, 0.2, 0.3, 0.4, 0.5, 0.6, 0.7, 0.8, 0.9, 1], "tickCount": 20, "labelFontSize": 8.5}}
          }}
        ]
       },
       {
        "width": 242, "height": 213,
        "title": {"text": "Task-driven Exploration Mode", "frame": "group", "dx": -25, "offset": 20},
        "resolve": {"scale": {"xOffset": "independent"}},
        "layer": [
         {"data": {"name": "barsB"}, "transform": [{"filter": {"field": "mode", "equal": "Task"}}],
          "mark": {"type": "bar", "stroke": "#555", "strokeWidth": 1},
          "encoding": {
           "x": {"field": "metric", "type": "nominal", "title": null, "scale": {"type": "band", "domain": ["Experimental Success"], "paddingInner": 0, "paddingOuter": 0}, "axis": {"labelPadding": 10}},
           "xOffset": {"field": "model", "type": "nominal", "scale": {"domain": ["Gemini-2.5-Pro", "GPT-5", "Ours"], "paddingInner": 0.138, "paddingOuter": 0.28}},
           "y": {"field": "mean", "type": "quantitative", "title": null, "scale": {"domain": [0, 1.05]}, "axis": {"values": [0, 0.1, 0.2, 0.3, 0.4, 0.5, 0.6, 0.7, 0.8, 0.9, 1], "tickCount": 20, "labelFontSize": 8.5}},
           "color": {"field": "model", "type": "nominal", "scale": {"domain": ["Gemini-2.5-Pro", "GPT-5", "Ours"], "range": ["#b897c0", "#b3b7d5", "#a0dfcd"]}, "legend": null}
          }},
         {"data": {"name": "ptsB"}, "transform": [{"filter": {"and": [{"field": "mode", "equal": "Task"}, {"field": "model", "equal": "Gemini-2.5-Pro"}]}}],
          "mark": {"type": "circle", "size": 20, "stroke": "#777", "strokeWidth": 0.7, "opacity": 0.9},
          "encoding": {
           "x": {"field": "metric", "type": "nominal", "title": null, "scale": {"type": "band", "domain": ["Experimental Success"], "paddingInner": 0, "paddingOuter": 0}, "axis": {"labelPadding": 10}},
           "xOffset": {"field": "j", "type": "quantitative", "scale": {"domain": [-2.011, 7.669], "nice": false, "zero": false}},
           "y": {"field": "score", "type": "quantitative", "title": null, "axis": {"values": [0, 0.1, 0.2, 0.3, 0.4, 0.5, 0.6, 0.7, 0.8, 0.9, 1], "tickCount": 20, "labelFontSize": 8.5}},
           "color": {"field": "model", "type": "nominal", "scale": {"domain": ["Gemini-2.5-Pro", "GPT-5", "Ours"], "range": ["#b897c0", "#b3b7d5", "#a0dfcd"]}, "legend": null}
          }},
         {"data": {"name": "ptsB"}, "transform": [{"filter": {"and": [{"field": "mode", "equal": "Task"}, {"field": "model", "equal": "GPT-5"}]}}],
          "mark": {"type": "circle", "size": 20, "stroke": "#777", "strokeWidth": 0.7, "opacity": 0.9},
          "encoding": {
           "x": {"field": "metric", "type": "nominal", "title": null, "scale": {"type": "band", "domain": ["Experimental Success"], "paddingInner": 0, "paddingOuter": 0}, "axis": {"labelPadding": 10}},
           "xOffset": {"field": "j", "type": "quantitative", "scale": {"domain": [-4.84, 4.84], "nice": false, "zero": false}},
           "y": {"field": "score", "type": "quantitative", "title": null, "axis": {"values": [0, 0.1, 0.2, 0.3, 0.4, 0.5, 0.6, 0.7, 0.8, 0.9, 1], "tickCount": 20, "labelFontSize": 8.5}},
           "color": {"field": "model", "type": "nominal", "scale": {"domain": ["Gemini-2.5-Pro", "GPT-5", "Ours"], "range": ["#b897c0", "#b3b7d5", "#a0dfcd"]}, "legend": null}
          }},
         {"data": {"name": "ptsB"}, "transform": [{"filter": {"and": [{"field": "mode", "equal": "Task"}, {"field": "model", "equal": "Ours"}]}}],
          "mark": {"type": "circle", "size": 20, "stroke": "#777", "strokeWidth": 0.7, "opacity": 0.9},
          "encoding": {
           "x": {"field": "metric", "type": "nominal", "title": null, "scale": {"type": "band", "domain": ["Experimental Success"], "paddingInner": 0, "paddingOuter": 0}, "axis": {"labelPadding": 10}},
           "xOffset": {"field": "j", "type": "quantitative", "scale": {"domain": [-7.669, 2.011], "nice": false, "zero": false}},
           "y": {"field": "score", "type": "quantitative", "title": null, "axis": {"values": [0, 0.1, 0.2, 0.3, 0.4, 0.5, 0.6, 0.7, 0.8, 0.9, 1], "tickCount": 20, "labelFontSize": 8.5}},
           "color": {"field": "model", "type": "nominal", "scale": {"domain": ["Gemini-2.5-Pro", "GPT-5", "Ours"], "range": ["#b897c0", "#b3b7d5", "#a0dfcd"]}, "legend": null}
          }},
         {"data": {"name": "barsB"}, "transform": [{"filter": {"field": "mode", "equal": "Task"}}],
          "mark": {"type": "rule", "color": "#222", "strokeWidth": 1.3, "clip": true},
          "encoding": {
           "x": {"field": "metric", "type": "nominal", "title": null, "scale": {"type": "band", "domain": ["Experimental Success"], "paddingInner": 0, "paddingOuter": 0}, "axis": {"labelPadding": 10}},
           "xOffset": {"field": "model", "type": "nominal", "scale": {"domain": ["Gemini-2.5-Pro", "GPT-5", "Ours"], "paddingInner": 0.138, "paddingOuter": 0.28}},
           "y": {"field": "lo", "type": "quantitative", "title": null, "axis": {"values": [0, 0.1, 0.2, 0.3, 0.4, 0.5, 0.6, 0.7, 0.8, 0.9, 1], "tickCount": 20, "labelFontSize": 8.5}},
           "y2": {"field": "hi"}
          }},
         {"data": {"name": "barsB"}, "transform": [{"filter": {"field": "mode", "equal": "Task"}}],
          "mark": {"type": "tick", "orient": "horizontal", "color": "#222", "thickness": 1.3, "size": 9, "clip": true},
          "encoding": {
           "x": {"field": "metric", "type": "nominal", "title": null, "scale": {"type": "band", "domain": ["Experimental Success"], "paddingInner": 0, "paddingOuter": 0}, "axis": {"labelPadding": 10}},
           "xOffset": {"field": "model", "type": "nominal", "scale": {"domain": ["Gemini-2.5-Pro", "GPT-5", "Ours"], "paddingInner": 0.138, "paddingOuter": 0.28}},
           "y": {"field": "lo", "type": "quantitative", "title": null, "axis": {"values": [0, 0.1, 0.2, 0.3, 0.4, 0.5, 0.6, 0.7, 0.8, 0.9, 1], "tickCount": 20, "labelFontSize": 8.5}}
          }},
         {"data": {"name": "barsB"}, "transform": [{"filter": {"field": "mode", "equal": "Task"}}],
          "mark": {"type": "tick", "orient": "horizontal", "color": "#222", "thickness": 1.3, "size": 9, "clip": true},
          "encoding": {
           "x": {"field": "metric", "type": "nominal", "title": null, "scale": {"type": "band", "domain": ["Experimental Success"], "paddingInner": 0, "paddingOuter": 0}, "axis": {"labelPadding": 10}},
           "xOffset": {"field": "model", "type": "nominal", "scale": {"domain": ["Gemini-2.5-Pro", "GPT-5", "Ours"], "paddingInner": 0.138, "paddingOuter": 0.28}},
           "y": {"field": "hi", "type": "quantitative", "title": null, "axis": {"values": [0, 0.1, 0.2, 0.3, 0.4, 0.5, 0.6, 0.7, 0.8, 0.9, 1], "tickCount": 20, "labelFontSize": 8.5}}
          }}
        ]
       }
      ]
     }
    ]
   },
   {
    "width": 610, "height": 20,
    "data": {"name": "legend"},
    "layer": [
     {"mark": {"type": "square", "size": 330, "filled": true, "stroke": "#555", "strokeWidth": 1.2, "opacity": 1},
      "encoding": {
       "x": {"field": "model", "type": "nominal", "axis": null, "scale": {"type": "point", "domain": ["Gemini-2.5-Pro", "GPT-5", "Ours"], "padding": 0.837, "align": 1}},
       "color": {"field": "model", "type": "nominal", "scale": {"domain": ["Gemini-2.5-Pro", "GPT-5", "Ours"], "range": ["#b897c0", "#b3b7d5", "#a0dfcd"]}, "legend": null}
      }},
     {"mark": {"type": "text", "align": "left", "baseline": "middle", "dx": 20, "fontSize": 15, "color": "#222"},
      "encoding": {
       "x": {"field": "model", "type": "nominal", "axis": null, "scale": {"type": "point", "domain": ["Gemini-2.5-Pro", "GPT-5", "Ours"], "padding": 0.837, "align": 1}},
       "text": {"field": "model"}
      }}
    ]
   }
  ]
 }
]
}
